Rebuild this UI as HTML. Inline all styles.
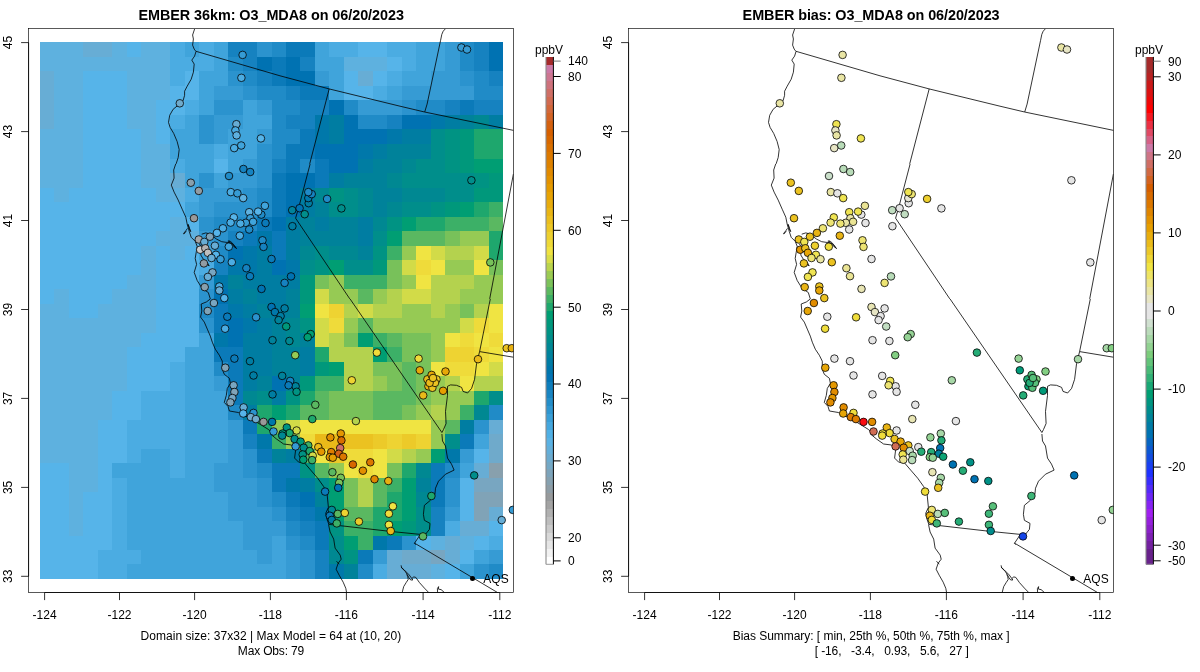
<!DOCTYPE html>
<html><head><meta charset="utf-8"><title>EMBER O3_MDA8</title>
<style>html,body{margin:0;padding:0;background:#fff}svg{display:block}text{font-family:"Liberation Sans",sans-serif;font-size:12px;fill:#000}.t{font-weight:bold;font-size:14.4px}</style></head><body>
<svg width="1200" height="672" viewBox="0 0 1200 672">
<rect width="1200" height="672" fill="#fff"/>
<g transform="translate(0.00,0)">
<clipPath id="c0"><rect x="28.6" y="28.6" width="484.9" height="563.9"/></clipPath>
<g shape-rendering="crispEdges">
<rect x="40" y="42" width="14" height="15" fill="#5eb1df"/>
<rect x="54" y="42" width="15" height="15" fill="#5eb1df"/>
<rect x="69" y="42" width="14" height="15" fill="#5eb1df"/>
<rect x="83" y="42" width="15" height="15" fill="#67add5"/>
<rect x="98" y="42" width="14" height="15" fill="#67add5"/>
<rect x="112" y="42" width="15" height="15" fill="#5eb1df"/>
<rect x="127" y="42" width="14" height="15" fill="#56b4e9"/>
<rect x="141" y="42" width="15" height="15" fill="#5eb1df"/>
<rect x="156" y="42" width="14" height="15" fill="#5eb1df"/>
<rect x="170" y="42" width="15" height="15" fill="#4bace2"/>
<rect x="185" y="42" width="14" height="15" fill="#40a4db"/>
<rect x="199" y="42" width="15" height="15" fill="#4bace2"/>
<rect x="214" y="42" width="14" height="15" fill="#40a4db"/>
<rect x="228" y="42" width="15" height="15" fill="#1682c0"/>
<rect x="243" y="42" width="14" height="15" fill="#1682c0"/>
<rect x="257" y="42" width="15" height="15" fill="#2b93ce"/>
<rect x="272" y="42" width="14" height="15" fill="#208bc7"/>
<rect x="286" y="42" width="14" height="15" fill="#0b7ab9"/>
<rect x="300" y="42" width="15" height="15" fill="#0b7ab9"/>
<rect x="315" y="42" width="14" height="15" fill="#40a4db"/>
<rect x="329" y="42" width="15" height="15" fill="#4bace2"/>
<rect x="344" y="42" width="14" height="15" fill="#4bace2"/>
<rect x="358" y="42" width="15" height="15" fill="#56b4e9"/>
<rect x="373" y="42" width="14" height="15" fill="#56b4e9"/>
<rect x="387" y="42" width="15" height="15" fill="#4bace2"/>
<rect x="402" y="42" width="14" height="15" fill="#4bace2"/>
<rect x="416" y="42" width="15" height="15" fill="#40a4db"/>
<rect x="431" y="42" width="14" height="15" fill="#40a4db"/>
<rect x="445" y="42" width="15" height="15" fill="#369bd4"/>
<rect x="460" y="42" width="14" height="15" fill="#208bc7"/>
<rect x="474" y="42" width="15" height="15" fill="#1682c0"/>
<rect x="489" y="42" width="14" height="15" fill="#0072b2"/>
<rect x="40" y="57" width="14" height="14" fill="#5eb1df"/>
<rect x="54" y="57" width="15" height="14" fill="#5eb1df"/>
<rect x="69" y="57" width="14" height="14" fill="#5eb1df"/>
<rect x="83" y="57" width="15" height="14" fill="#5eb1df"/>
<rect x="98" y="57" width="14" height="14" fill="#5eb1df"/>
<rect x="112" y="57" width="15" height="14" fill="#5eb1df"/>
<rect x="127" y="57" width="14" height="14" fill="#5eb1df"/>
<rect x="141" y="57" width="15" height="14" fill="#5eb1df"/>
<rect x="156" y="57" width="14" height="14" fill="#5eb1df"/>
<rect x="170" y="57" width="15" height="14" fill="#4bace2"/>
<rect x="185" y="57" width="14" height="14" fill="#4bace2"/>
<rect x="199" y="57" width="15" height="14" fill="#4bace2"/>
<rect x="214" y="57" width="14" height="14" fill="#40a4db"/>
<rect x="228" y="57" width="15" height="14" fill="#208bc7"/>
<rect x="243" y="57" width="14" height="14" fill="#1682c0"/>
<rect x="257" y="57" width="15" height="14" fill="#0072b2"/>
<rect x="272" y="57" width="14" height="14" fill="#0b7ab9"/>
<rect x="286" y="57" width="14" height="14" fill="#0072b2"/>
<rect x="300" y="57" width="15" height="14" fill="#1682c0"/>
<rect x="315" y="57" width="14" height="14" fill="#40a4db"/>
<rect x="329" y="57" width="15" height="14" fill="#40a4db"/>
<rect x="344" y="57" width="14" height="14" fill="#5eb1df"/>
<rect x="358" y="57" width="15" height="14" fill="#5eb1df"/>
<rect x="373" y="57" width="14" height="14" fill="#5eb1df"/>
<rect x="387" y="57" width="15" height="14" fill="#56b4e9"/>
<rect x="402" y="57" width="14" height="14" fill="#4bace2"/>
<rect x="416" y="57" width="15" height="14" fill="#40a4db"/>
<rect x="431" y="57" width="14" height="14" fill="#40a4db"/>
<rect x="445" y="57" width="15" height="14" fill="#369bd4"/>
<rect x="460" y="57" width="14" height="14" fill="#208bc7"/>
<rect x="474" y="57" width="15" height="14" fill="#1682c0"/>
<rect x="489" y="57" width="14" height="14" fill="#0072b2"/>
<rect x="40" y="71" width="14" height="15" fill="#67add5"/>
<rect x="54" y="71" width="15" height="15" fill="#5eb1df"/>
<rect x="69" y="71" width="14" height="15" fill="#5eb1df"/>
<rect x="83" y="71" width="15" height="15" fill="#56b4e9"/>
<rect x="98" y="71" width="14" height="15" fill="#56b4e9"/>
<rect x="112" y="71" width="15" height="15" fill="#56b4e9"/>
<rect x="127" y="71" width="14" height="15" fill="#5eb1df"/>
<rect x="141" y="71" width="15" height="15" fill="#5eb1df"/>
<rect x="156" y="71" width="14" height="15" fill="#5eb1df"/>
<rect x="170" y="71" width="15" height="15" fill="#4bace2"/>
<rect x="185" y="71" width="14" height="15" fill="#56b4e9"/>
<rect x="199" y="71" width="15" height="15" fill="#40a4db"/>
<rect x="214" y="71" width="14" height="15" fill="#40a4db"/>
<rect x="228" y="71" width="15" height="15" fill="#2b93ce"/>
<rect x="243" y="71" width="14" height="15" fill="#208bc7"/>
<rect x="257" y="71" width="15" height="15" fill="#1682c0"/>
<rect x="272" y="71" width="14" height="15" fill="#0b7ab9"/>
<rect x="286" y="71" width="14" height="15" fill="#0072b2"/>
<rect x="300" y="71" width="15" height="15" fill="#0072b2"/>
<rect x="315" y="71" width="14" height="15" fill="#369bd4"/>
<rect x="329" y="71" width="15" height="15" fill="#40a4db"/>
<rect x="344" y="71" width="14" height="15" fill="#56b4e9"/>
<rect x="358" y="71" width="15" height="15" fill="#67add5"/>
<rect x="373" y="71" width="14" height="15" fill="#56b4e9"/>
<rect x="387" y="71" width="15" height="15" fill="#4bace2"/>
<rect x="402" y="71" width="14" height="15" fill="#40a4db"/>
<rect x="416" y="71" width="15" height="15" fill="#40a4db"/>
<rect x="431" y="71" width="14" height="15" fill="#369bd4"/>
<rect x="445" y="71" width="15" height="15" fill="#369bd4"/>
<rect x="460" y="71" width="14" height="15" fill="#2b93ce"/>
<rect x="474" y="71" width="15" height="15" fill="#208bc7"/>
<rect x="489" y="71" width="14" height="15" fill="#1682c0"/>
<rect x="40" y="86" width="14" height="14" fill="#67add5"/>
<rect x="54" y="86" width="15" height="14" fill="#5eb1df"/>
<rect x="69" y="86" width="14" height="14" fill="#5eb1df"/>
<rect x="83" y="86" width="15" height="14" fill="#56b4e9"/>
<rect x="98" y="86" width="14" height="14" fill="#56b4e9"/>
<rect x="112" y="86" width="15" height="14" fill="#56b4e9"/>
<rect x="127" y="86" width="14" height="14" fill="#5eb1df"/>
<rect x="141" y="86" width="15" height="14" fill="#5eb1df"/>
<rect x="156" y="86" width="14" height="14" fill="#5eb1df"/>
<rect x="170" y="86" width="15" height="14" fill="#56b4e9"/>
<rect x="185" y="86" width="14" height="14" fill="#56b4e9"/>
<rect x="199" y="86" width="15" height="14" fill="#40a4db"/>
<rect x="214" y="86" width="14" height="14" fill="#369bd4"/>
<rect x="228" y="86" width="15" height="14" fill="#369bd4"/>
<rect x="243" y="86" width="14" height="14" fill="#2b93ce"/>
<rect x="257" y="86" width="15" height="14" fill="#208bc7"/>
<rect x="272" y="86" width="14" height="14" fill="#208bc7"/>
<rect x="286" y="86" width="14" height="14" fill="#1682c0"/>
<rect x="300" y="86" width="15" height="14" fill="#0b7ab9"/>
<rect x="315" y="86" width="14" height="14" fill="#0b7ab9"/>
<rect x="329" y="86" width="15" height="14" fill="#40a4db"/>
<rect x="344" y="86" width="14" height="14" fill="#56b4e9"/>
<rect x="358" y="86" width="15" height="14" fill="#56b4e9"/>
<rect x="373" y="86" width="14" height="14" fill="#4bace2"/>
<rect x="387" y="86" width="15" height="14" fill="#40a4db"/>
<rect x="402" y="86" width="14" height="14" fill="#369bd4"/>
<rect x="416" y="86" width="15" height="14" fill="#369bd4"/>
<rect x="431" y="86" width="14" height="14" fill="#369bd4"/>
<rect x="445" y="86" width="15" height="14" fill="#369bd4"/>
<rect x="460" y="86" width="14" height="14" fill="#369bd4"/>
<rect x="474" y="86" width="15" height="14" fill="#208bc7"/>
<rect x="489" y="86" width="14" height="14" fill="#208bc7"/>
<rect x="40" y="100" width="14" height="15" fill="#67add5"/>
<rect x="54" y="100" width="15" height="15" fill="#5eb1df"/>
<rect x="69" y="100" width="14" height="15" fill="#5eb1df"/>
<rect x="83" y="100" width="15" height="15" fill="#56b4e9"/>
<rect x="98" y="100" width="14" height="15" fill="#56b4e9"/>
<rect x="112" y="100" width="15" height="15" fill="#56b4e9"/>
<rect x="127" y="100" width="14" height="15" fill="#5eb1df"/>
<rect x="141" y="100" width="15" height="15" fill="#5eb1df"/>
<rect x="156" y="100" width="14" height="15" fill="#56b4e9"/>
<rect x="170" y="100" width="15" height="15" fill="#56b4e9"/>
<rect x="185" y="100" width="14" height="15" fill="#4bace2"/>
<rect x="199" y="100" width="15" height="15" fill="#40a4db"/>
<rect x="214" y="100" width="14" height="15" fill="#2b93ce"/>
<rect x="228" y="100" width="15" height="15" fill="#2b93ce"/>
<rect x="243" y="100" width="14" height="15" fill="#40a4db"/>
<rect x="257" y="100" width="15" height="15" fill="#369bd4"/>
<rect x="272" y="100" width="14" height="15" fill="#208bc7"/>
<rect x="286" y="100" width="14" height="15" fill="#208bc7"/>
<rect x="300" y="100" width="15" height="15" fill="#1682c0"/>
<rect x="315" y="100" width="14" height="15" fill="#1682c0"/>
<rect x="329" y="100" width="15" height="15" fill="#0072b2"/>
<rect x="344" y="100" width="14" height="15" fill="#208bc7"/>
<rect x="358" y="100" width="15" height="15" fill="#369bd4"/>
<rect x="373" y="100" width="14" height="15" fill="#369bd4"/>
<rect x="387" y="100" width="15" height="15" fill="#369bd4"/>
<rect x="402" y="100" width="14" height="15" fill="#2b93ce"/>
<rect x="416" y="100" width="15" height="15" fill="#208bc7"/>
<rect x="431" y="100" width="14" height="15" fill="#208bc7"/>
<rect x="445" y="100" width="15" height="15" fill="#1682c0"/>
<rect x="460" y="100" width="14" height="15" fill="#0b7ab9"/>
<rect x="474" y="100" width="15" height="15" fill="#1682c0"/>
<rect x="489" y="100" width="14" height="15" fill="#1682c0"/>
<rect x="40" y="115" width="14" height="14" fill="#67add5"/>
<rect x="54" y="115" width="15" height="14" fill="#5eb1df"/>
<rect x="69" y="115" width="14" height="14" fill="#5eb1df"/>
<rect x="83" y="115" width="15" height="14" fill="#56b4e9"/>
<rect x="98" y="115" width="14" height="14" fill="#56b4e9"/>
<rect x="112" y="115" width="15" height="14" fill="#56b4e9"/>
<rect x="127" y="115" width="14" height="14" fill="#5eb1df"/>
<rect x="141" y="115" width="15" height="14" fill="#5eb1df"/>
<rect x="156" y="115" width="14" height="14" fill="#56b4e9"/>
<rect x="170" y="115" width="15" height="14" fill="#4bace2"/>
<rect x="185" y="115" width="14" height="14" fill="#40a4db"/>
<rect x="199" y="115" width="15" height="14" fill="#2b93ce"/>
<rect x="214" y="115" width="14" height="14" fill="#369bd4"/>
<rect x="228" y="115" width="15" height="14" fill="#369bd4"/>
<rect x="243" y="115" width="14" height="14" fill="#40a4db"/>
<rect x="257" y="115" width="15" height="14" fill="#40a4db"/>
<rect x="272" y="115" width="14" height="14" fill="#208bc7"/>
<rect x="286" y="115" width="14" height="14" fill="#1682c0"/>
<rect x="300" y="115" width="15" height="14" fill="#1682c0"/>
<rect x="315" y="115" width="14" height="14" fill="#0078aa"/>
<rect x="329" y="115" width="15" height="14" fill="#007da2"/>
<rect x="344" y="115" width="14" height="14" fill="#0072b2"/>
<rect x="358" y="115" width="15" height="14" fill="#208bc7"/>
<rect x="373" y="115" width="14" height="14" fill="#208bc7"/>
<rect x="387" y="115" width="15" height="14" fill="#1682c0"/>
<rect x="402" y="115" width="14" height="14" fill="#0072b2"/>
<rect x="416" y="115" width="15" height="14" fill="#0072b2"/>
<rect x="431" y="115" width="14" height="14" fill="#0078aa"/>
<rect x="445" y="115" width="15" height="14" fill="#007da2"/>
<rect x="460" y="115" width="14" height="14" fill="#00829a"/>
<rect x="474" y="115" width="15" height="14" fill="#008892"/>
<rect x="489" y="115" width="14" height="14" fill="#007da2"/>
<rect x="40" y="129" width="14" height="15" fill="#5eb1df"/>
<rect x="54" y="129" width="15" height="15" fill="#5eb1df"/>
<rect x="69" y="129" width="14" height="15" fill="#5eb1df"/>
<rect x="83" y="129" width="15" height="15" fill="#56b4e9"/>
<rect x="98" y="129" width="14" height="15" fill="#56b4e9"/>
<rect x="112" y="129" width="15" height="15" fill="#56b4e9"/>
<rect x="127" y="129" width="14" height="15" fill="#56b4e9"/>
<rect x="141" y="129" width="15" height="15" fill="#5eb1df"/>
<rect x="156" y="129" width="14" height="15" fill="#56b4e9"/>
<rect x="170" y="129" width="15" height="15" fill="#40a4db"/>
<rect x="185" y="129" width="14" height="15" fill="#40a4db"/>
<rect x="199" y="129" width="15" height="15" fill="#2b93ce"/>
<rect x="214" y="129" width="14" height="15" fill="#369bd4"/>
<rect x="228" y="129" width="15" height="15" fill="#40a4db"/>
<rect x="243" y="129" width="14" height="15" fill="#40a4db"/>
<rect x="257" y="129" width="15" height="15" fill="#369bd4"/>
<rect x="272" y="129" width="14" height="15" fill="#208bc7"/>
<rect x="286" y="129" width="14" height="15" fill="#208bc7"/>
<rect x="300" y="129" width="15" height="15" fill="#0b7ab9"/>
<rect x="315" y="129" width="14" height="15" fill="#0078aa"/>
<rect x="329" y="129" width="15" height="15" fill="#007da2"/>
<rect x="344" y="129" width="14" height="15" fill="#0072b2"/>
<rect x="358" y="129" width="15" height="15" fill="#0072b2"/>
<rect x="373" y="129" width="14" height="15" fill="#0072b2"/>
<rect x="387" y="129" width="15" height="15" fill="#0078aa"/>
<rect x="402" y="129" width="14" height="15" fill="#007da2"/>
<rect x="416" y="129" width="15" height="15" fill="#007da2"/>
<rect x="431" y="129" width="14" height="15" fill="#008e8b"/>
<rect x="445" y="129" width="15" height="15" fill="#009383"/>
<rect x="460" y="129" width="14" height="15" fill="#00987b"/>
<rect x="474" y="129" width="15" height="15" fill="#1ea76d"/>
<rect x="489" y="129" width="14" height="15" fill="#1ea76d"/>
<rect x="40" y="144" width="14" height="15" fill="#5eb1df"/>
<rect x="54" y="144" width="15" height="15" fill="#5eb1df"/>
<rect x="69" y="144" width="14" height="15" fill="#5eb1df"/>
<rect x="83" y="144" width="15" height="15" fill="#56b4e9"/>
<rect x="98" y="144" width="14" height="15" fill="#56b4e9"/>
<rect x="112" y="144" width="15" height="15" fill="#56b4e9"/>
<rect x="127" y="144" width="14" height="15" fill="#56b4e9"/>
<rect x="141" y="144" width="15" height="15" fill="#5eb1df"/>
<rect x="156" y="144" width="14" height="15" fill="#5eb1df"/>
<rect x="170" y="144" width="15" height="15" fill="#40a4db"/>
<rect x="185" y="144" width="14" height="15" fill="#40a4db"/>
<rect x="199" y="144" width="15" height="15" fill="#40a4db"/>
<rect x="214" y="144" width="14" height="15" fill="#4bace2"/>
<rect x="228" y="144" width="15" height="15" fill="#40a4db"/>
<rect x="243" y="144" width="14" height="15" fill="#40a4db"/>
<rect x="257" y="144" width="15" height="15" fill="#2b93ce"/>
<rect x="272" y="144" width="14" height="15" fill="#208bc7"/>
<rect x="286" y="144" width="14" height="15" fill="#0b7ab9"/>
<rect x="300" y="144" width="15" height="15" fill="#0b7ab9"/>
<rect x="315" y="144" width="14" height="15" fill="#0072b2"/>
<rect x="329" y="144" width="15" height="15" fill="#0072b2"/>
<rect x="344" y="144" width="14" height="15" fill="#0072b2"/>
<rect x="358" y="144" width="15" height="15" fill="#0078aa"/>
<rect x="373" y="144" width="14" height="15" fill="#007da2"/>
<rect x="387" y="144" width="15" height="15" fill="#00829a"/>
<rect x="402" y="144" width="14" height="15" fill="#00829a"/>
<rect x="416" y="144" width="15" height="15" fill="#00829a"/>
<rect x="431" y="144" width="14" height="15" fill="#008e8b"/>
<rect x="445" y="144" width="15" height="15" fill="#009383"/>
<rect x="460" y="144" width="14" height="15" fill="#00987b"/>
<rect x="474" y="144" width="15" height="15" fill="#1ea76d"/>
<rect x="489" y="144" width="14" height="15" fill="#1ea76d"/>
<rect x="40" y="159" width="14" height="14" fill="#5eb1df"/>
<rect x="54" y="159" width="15" height="14" fill="#5eb1df"/>
<rect x="69" y="159" width="14" height="14" fill="#5eb1df"/>
<rect x="83" y="159" width="15" height="14" fill="#56b4e9"/>
<rect x="98" y="159" width="14" height="14" fill="#56b4e9"/>
<rect x="112" y="159" width="15" height="14" fill="#56b4e9"/>
<rect x="127" y="159" width="14" height="14" fill="#56b4e9"/>
<rect x="141" y="159" width="15" height="14" fill="#5eb1df"/>
<rect x="156" y="159" width="14" height="14" fill="#5eb1df"/>
<rect x="170" y="159" width="15" height="14" fill="#4bace2"/>
<rect x="185" y="159" width="14" height="14" fill="#40a4db"/>
<rect x="199" y="159" width="15" height="14" fill="#40a4db"/>
<rect x="214" y="159" width="14" height="14" fill="#56b4e9"/>
<rect x="228" y="159" width="15" height="14" fill="#40a4db"/>
<rect x="243" y="159" width="14" height="14" fill="#369bd4"/>
<rect x="257" y="159" width="15" height="14" fill="#2b93ce"/>
<rect x="272" y="159" width="14" height="14" fill="#1682c0"/>
<rect x="286" y="159" width="14" height="14" fill="#0b7ab9"/>
<rect x="300" y="159" width="15" height="14" fill="#208bc7"/>
<rect x="315" y="159" width="14" height="14" fill="#0b7ab9"/>
<rect x="329" y="159" width="15" height="14" fill="#0072b2"/>
<rect x="344" y="159" width="14" height="14" fill="#0072b2"/>
<rect x="358" y="159" width="15" height="14" fill="#007da2"/>
<rect x="373" y="159" width="14" height="14" fill="#00829a"/>
<rect x="387" y="159" width="15" height="14" fill="#00829a"/>
<rect x="402" y="159" width="14" height="14" fill="#008892"/>
<rect x="416" y="159" width="15" height="14" fill="#008e8b"/>
<rect x="431" y="159" width="14" height="14" fill="#008e8b"/>
<rect x="445" y="159" width="15" height="14" fill="#009383"/>
<rect x="460" y="159" width="14" height="14" fill="#00987b"/>
<rect x="474" y="159" width="15" height="14" fill="#009e73"/>
<rect x="489" y="159" width="14" height="14" fill="#009e73"/>
<rect x="40" y="173" width="14" height="15" fill="#5eb1df"/>
<rect x="54" y="173" width="15" height="15" fill="#5eb1df"/>
<rect x="69" y="173" width="14" height="15" fill="#5eb1df"/>
<rect x="83" y="173" width="15" height="15" fill="#56b4e9"/>
<rect x="98" y="173" width="14" height="15" fill="#56b4e9"/>
<rect x="112" y="173" width="15" height="15" fill="#56b4e9"/>
<rect x="127" y="173" width="14" height="15" fill="#56b4e9"/>
<rect x="141" y="173" width="15" height="15" fill="#5eb1df"/>
<rect x="156" y="173" width="14" height="15" fill="#5eb1df"/>
<rect x="170" y="173" width="15" height="15" fill="#67add5"/>
<rect x="185" y="173" width="14" height="15" fill="#40a4db"/>
<rect x="199" y="173" width="15" height="15" fill="#2b93ce"/>
<rect x="214" y="173" width="14" height="15" fill="#40a4db"/>
<rect x="228" y="173" width="15" height="15" fill="#369bd4"/>
<rect x="243" y="173" width="14" height="15" fill="#369bd4"/>
<rect x="257" y="173" width="15" height="15" fill="#2b93ce"/>
<rect x="272" y="173" width="14" height="15" fill="#0b7ab9"/>
<rect x="286" y="173" width="14" height="15" fill="#0072b2"/>
<rect x="300" y="173" width="15" height="15" fill="#0072b2"/>
<rect x="315" y="173" width="14" height="15" fill="#0b7ab9"/>
<rect x="329" y="173" width="15" height="15" fill="#007da2"/>
<rect x="344" y="173" width="14" height="15" fill="#00829a"/>
<rect x="358" y="173" width="15" height="15" fill="#00829a"/>
<rect x="373" y="173" width="14" height="15" fill="#00829a"/>
<rect x="387" y="173" width="15" height="15" fill="#008892"/>
<rect x="402" y="173" width="14" height="15" fill="#008e8b"/>
<rect x="416" y="173" width="15" height="15" fill="#008e8b"/>
<rect x="431" y="173" width="14" height="15" fill="#008e8b"/>
<rect x="445" y="173" width="15" height="15" fill="#008e8b"/>
<rect x="460" y="173" width="14" height="15" fill="#008e8b"/>
<rect x="474" y="173" width="15" height="15" fill="#009383"/>
<rect x="489" y="173" width="14" height="15" fill="#00987b"/>
<rect x="40" y="188" width="14" height="14" fill="#56b4e9"/>
<rect x="54" y="188" width="15" height="14" fill="#5eb1df"/>
<rect x="69" y="188" width="14" height="14" fill="#56b4e9"/>
<rect x="83" y="188" width="15" height="14" fill="#56b4e9"/>
<rect x="98" y="188" width="14" height="14" fill="#56b4e9"/>
<rect x="112" y="188" width="15" height="14" fill="#56b4e9"/>
<rect x="127" y="188" width="14" height="14" fill="#56b4e9"/>
<rect x="141" y="188" width="15" height="14" fill="#56b4e9"/>
<rect x="156" y="188" width="14" height="14" fill="#5eb1df"/>
<rect x="170" y="188" width="15" height="14" fill="#5eb1df"/>
<rect x="185" y="188" width="14" height="14" fill="#4bace2"/>
<rect x="199" y="188" width="15" height="14" fill="#369bd4"/>
<rect x="214" y="188" width="14" height="14" fill="#369bd4"/>
<rect x="228" y="188" width="15" height="14" fill="#369bd4"/>
<rect x="243" y="188" width="14" height="14" fill="#2b93ce"/>
<rect x="257" y="188" width="15" height="14" fill="#208bc7"/>
<rect x="272" y="188" width="14" height="14" fill="#0b7ab9"/>
<rect x="286" y="188" width="14" height="14" fill="#0072b2"/>
<rect x="300" y="188" width="15" height="14" fill="#007da2"/>
<rect x="315" y="188" width="14" height="14" fill="#008892"/>
<rect x="329" y="188" width="15" height="14" fill="#009383"/>
<rect x="344" y="188" width="14" height="14" fill="#008e8b"/>
<rect x="358" y="188" width="15" height="14" fill="#008892"/>
<rect x="373" y="188" width="14" height="14" fill="#00829a"/>
<rect x="387" y="188" width="15" height="14" fill="#00829a"/>
<rect x="402" y="188" width="14" height="14" fill="#008892"/>
<rect x="416" y="188" width="15" height="14" fill="#008892"/>
<rect x="431" y="188" width="14" height="14" fill="#008892"/>
<rect x="445" y="188" width="15" height="14" fill="#008e8b"/>
<rect x="460" y="188" width="14" height="14" fill="#008e8b"/>
<rect x="474" y="188" width="15" height="14" fill="#00987b"/>
<rect x="489" y="188" width="14" height="14" fill="#00987b"/>
<rect x="40" y="202" width="14" height="15" fill="#56b4e9"/>
<rect x="54" y="202" width="15" height="15" fill="#56b4e9"/>
<rect x="69" y="202" width="14" height="15" fill="#56b4e9"/>
<rect x="83" y="202" width="15" height="15" fill="#56b4e9"/>
<rect x="98" y="202" width="14" height="15" fill="#56b4e9"/>
<rect x="112" y="202" width="15" height="15" fill="#56b4e9"/>
<rect x="127" y="202" width="14" height="15" fill="#56b4e9"/>
<rect x="141" y="202" width="15" height="15" fill="#56b4e9"/>
<rect x="156" y="202" width="14" height="15" fill="#56b4e9"/>
<rect x="170" y="202" width="15" height="15" fill="#56b4e9"/>
<rect x="185" y="202" width="14" height="15" fill="#40a4db"/>
<rect x="199" y="202" width="15" height="15" fill="#369bd4"/>
<rect x="214" y="202" width="14" height="15" fill="#2b93ce"/>
<rect x="228" y="202" width="15" height="15" fill="#2b93ce"/>
<rect x="243" y="202" width="14" height="15" fill="#2b93ce"/>
<rect x="257" y="202" width="15" height="15" fill="#208bc7"/>
<rect x="272" y="202" width="14" height="15" fill="#0b7ab9"/>
<rect x="286" y="202" width="14" height="15" fill="#0072b2"/>
<rect x="300" y="202" width="15" height="15" fill="#007da2"/>
<rect x="315" y="202" width="14" height="15" fill="#00829a"/>
<rect x="329" y="202" width="15" height="15" fill="#008e8b"/>
<rect x="344" y="202" width="14" height="15" fill="#008e8b"/>
<rect x="358" y="202" width="15" height="15" fill="#008892"/>
<rect x="373" y="202" width="14" height="15" fill="#00829a"/>
<rect x="387" y="202" width="15" height="15" fill="#008892"/>
<rect x="402" y="202" width="14" height="15" fill="#008e8b"/>
<rect x="416" y="202" width="15" height="15" fill="#008e8b"/>
<rect x="431" y="202" width="14" height="15" fill="#009383"/>
<rect x="445" y="202" width="15" height="15" fill="#00987b"/>
<rect x="460" y="202" width="14" height="15" fill="#009e73"/>
<rect x="474" y="202" width="15" height="15" fill="#1ea76d"/>
<rect x="489" y="202" width="14" height="15" fill="#3cb067"/>
<rect x="40" y="217" width="14" height="14" fill="#56b4e9"/>
<rect x="54" y="217" width="15" height="14" fill="#56b4e9"/>
<rect x="69" y="217" width="14" height="14" fill="#56b4e9"/>
<rect x="83" y="217" width="15" height="14" fill="#56b4e9"/>
<rect x="98" y="217" width="14" height="14" fill="#56b4e9"/>
<rect x="112" y="217" width="15" height="14" fill="#56b4e9"/>
<rect x="127" y="217" width="14" height="14" fill="#56b4e9"/>
<rect x="141" y="217" width="15" height="14" fill="#56b4e9"/>
<rect x="156" y="217" width="14" height="14" fill="#56b4e9"/>
<rect x="170" y="217" width="15" height="14" fill="#5eb1df"/>
<rect x="185" y="217" width="14" height="14" fill="#56b4e9"/>
<rect x="199" y="217" width="15" height="14" fill="#2b93ce"/>
<rect x="214" y="217" width="14" height="14" fill="#208bc7"/>
<rect x="228" y="217" width="15" height="14" fill="#208bc7"/>
<rect x="243" y="217" width="14" height="14" fill="#208bc7"/>
<rect x="257" y="217" width="15" height="14" fill="#0b7ab9"/>
<rect x="272" y="217" width="14" height="14" fill="#0072b2"/>
<rect x="286" y="217" width="14" height="14" fill="#007da2"/>
<rect x="300" y="217" width="15" height="14" fill="#00829a"/>
<rect x="315" y="217" width="14" height="14" fill="#007da2"/>
<rect x="329" y="217" width="15" height="14" fill="#00829a"/>
<rect x="344" y="217" width="14" height="14" fill="#00829a"/>
<rect x="358" y="217" width="15" height="14" fill="#007da2"/>
<rect x="373" y="217" width="14" height="14" fill="#008892"/>
<rect x="387" y="217" width="15" height="14" fill="#009383"/>
<rect x="402" y="217" width="14" height="14" fill="#009e73"/>
<rect x="416" y="217" width="15" height="14" fill="#1ea76d"/>
<rect x="431" y="217" width="14" height="14" fill="#1ea76d"/>
<rect x="445" y="217" width="15" height="14" fill="#3cb067"/>
<rect x="460" y="217" width="14" height="14" fill="#3cb067"/>
<rect x="474" y="217" width="15" height="14" fill="#3cb067"/>
<rect x="489" y="217" width="14" height="14" fill="#5ab861"/>
<rect x="40" y="231" width="14" height="15" fill="#56b4e9"/>
<rect x="54" y="231" width="15" height="15" fill="#56b4e9"/>
<rect x="69" y="231" width="14" height="15" fill="#56b4e9"/>
<rect x="83" y="231" width="15" height="15" fill="#56b4e9"/>
<rect x="98" y="231" width="14" height="15" fill="#56b4e9"/>
<rect x="112" y="231" width="15" height="15" fill="#56b4e9"/>
<rect x="127" y="231" width="14" height="15" fill="#56b4e9"/>
<rect x="141" y="231" width="15" height="15" fill="#56b4e9"/>
<rect x="156" y="231" width="14" height="15" fill="#5eb1df"/>
<rect x="170" y="231" width="15" height="15" fill="#5eb1df"/>
<rect x="185" y="231" width="14" height="15" fill="#5eb1df"/>
<rect x="199" y="231" width="15" height="15" fill="#369bd4"/>
<rect x="214" y="231" width="14" height="15" fill="#2b93ce"/>
<rect x="228" y="231" width="15" height="15" fill="#1682c0"/>
<rect x="243" y="231" width="14" height="15" fill="#0b7ab9"/>
<rect x="257" y="231" width="15" height="15" fill="#0078aa"/>
<rect x="272" y="231" width="14" height="15" fill="#0b7ab9"/>
<rect x="286" y="231" width="14" height="15" fill="#007da2"/>
<rect x="300" y="231" width="15" height="15" fill="#00829a"/>
<rect x="315" y="231" width="14" height="15" fill="#00829a"/>
<rect x="329" y="231" width="15" height="15" fill="#00829a"/>
<rect x="344" y="231" width="14" height="15" fill="#00829a"/>
<rect x="358" y="231" width="15" height="15" fill="#007da2"/>
<rect x="373" y="231" width="14" height="15" fill="#008e8b"/>
<rect x="387" y="231" width="15" height="15" fill="#009e73"/>
<rect x="402" y="231" width="14" height="15" fill="#5ab861"/>
<rect x="416" y="231" width="15" height="15" fill="#5ab861"/>
<rect x="431" y="231" width="14" height="15" fill="#5ab861"/>
<rect x="445" y="231" width="15" height="15" fill="#78c15a"/>
<rect x="460" y="231" width="14" height="15" fill="#96ca54"/>
<rect x="474" y="231" width="15" height="15" fill="#96ca54"/>
<rect x="489" y="231" width="14" height="15" fill="#1ea76d"/>
<rect x="40" y="246" width="14" height="14" fill="#56b4e9"/>
<rect x="54" y="246" width="15" height="14" fill="#56b4e9"/>
<rect x="69" y="246" width="14" height="14" fill="#56b4e9"/>
<rect x="83" y="246" width="15" height="14" fill="#56b4e9"/>
<rect x="98" y="246" width="14" height="14" fill="#56b4e9"/>
<rect x="112" y="246" width="15" height="14" fill="#56b4e9"/>
<rect x="127" y="246" width="14" height="14" fill="#56b4e9"/>
<rect x="141" y="246" width="15" height="14" fill="#5eb1df"/>
<rect x="156" y="246" width="14" height="14" fill="#56b4e9"/>
<rect x="170" y="246" width="15" height="14" fill="#5eb1df"/>
<rect x="185" y="246" width="14" height="14" fill="#56b4e9"/>
<rect x="199" y="246" width="15" height="14" fill="#40a4db"/>
<rect x="214" y="246" width="14" height="14" fill="#208bc7"/>
<rect x="228" y="246" width="15" height="14" fill="#0072b2"/>
<rect x="243" y="246" width="14" height="14" fill="#0078aa"/>
<rect x="257" y="246" width="15" height="14" fill="#007da2"/>
<rect x="272" y="246" width="14" height="14" fill="#0b7ab9"/>
<rect x="286" y="246" width="14" height="14" fill="#007da2"/>
<rect x="300" y="246" width="15" height="14" fill="#008892"/>
<rect x="315" y="246" width="14" height="14" fill="#008e8b"/>
<rect x="329" y="246" width="15" height="14" fill="#008892"/>
<rect x="344" y="246" width="14" height="14" fill="#008892"/>
<rect x="358" y="246" width="15" height="14" fill="#00829a"/>
<rect x="373" y="246" width="14" height="14" fill="#009383"/>
<rect x="387" y="246" width="15" height="14" fill="#3cb067"/>
<rect x="402" y="246" width="14" height="14" fill="#96ca54"/>
<rect x="416" y="246" width="15" height="14" fill="#f0e442"/>
<rect x="431" y="246" width="14" height="14" fill="#d2db48"/>
<rect x="445" y="246" width="15" height="14" fill="#b4d24e"/>
<rect x="460" y="246" width="14" height="14" fill="#b4d24e"/>
<rect x="474" y="246" width="15" height="14" fill="#d2db48"/>
<rect x="489" y="246" width="14" height="14" fill="#1ea76d"/>
<rect x="40" y="260" width="14" height="15" fill="#56b4e9"/>
<rect x="54" y="260" width="15" height="15" fill="#56b4e9"/>
<rect x="69" y="260" width="14" height="15" fill="#56b4e9"/>
<rect x="83" y="260" width="15" height="15" fill="#56b4e9"/>
<rect x="98" y="260" width="14" height="15" fill="#56b4e9"/>
<rect x="112" y="260" width="15" height="15" fill="#56b4e9"/>
<rect x="127" y="260" width="14" height="15" fill="#56b4e9"/>
<rect x="141" y="260" width="15" height="15" fill="#5eb1df"/>
<rect x="156" y="260" width="14" height="15" fill="#56b4e9"/>
<rect x="170" y="260" width="15" height="15" fill="#56b4e9"/>
<rect x="185" y="260" width="14" height="15" fill="#56b4e9"/>
<rect x="199" y="260" width="15" height="15" fill="#4bace2"/>
<rect x="214" y="260" width="14" height="15" fill="#1682c0"/>
<rect x="228" y="260" width="15" height="15" fill="#0078aa"/>
<rect x="243" y="260" width="14" height="15" fill="#0078aa"/>
<rect x="257" y="260" width="15" height="15" fill="#007da2"/>
<rect x="272" y="260" width="14" height="15" fill="#0072b2"/>
<rect x="286" y="260" width="14" height="15" fill="#0078aa"/>
<rect x="300" y="260" width="15" height="15" fill="#008e8b"/>
<rect x="315" y="260" width="14" height="15" fill="#009383"/>
<rect x="329" y="260" width="15" height="15" fill="#009e73"/>
<rect x="344" y="260" width="14" height="15" fill="#008e8b"/>
<rect x="358" y="260" width="15" height="15" fill="#008e8b"/>
<rect x="373" y="260" width="14" height="15" fill="#00987b"/>
<rect x="387" y="260" width="15" height="15" fill="#78c15a"/>
<rect x="402" y="260" width="14" height="15" fill="#d2db48"/>
<rect x="416" y="260" width="15" height="15" fill="#efdb3a"/>
<rect x="431" y="260" width="14" height="15" fill="#f0e442"/>
<rect x="445" y="260" width="15" height="15" fill="#96ca54"/>
<rect x="460" y="260" width="14" height="15" fill="#96ca54"/>
<rect x="474" y="260" width="15" height="15" fill="#f0e442"/>
<rect x="489" y="260" width="14" height="15" fill="#78c15a"/>
<rect x="40" y="275" width="14" height="14" fill="#56b4e9"/>
<rect x="54" y="275" width="15" height="14" fill="#56b4e9"/>
<rect x="69" y="275" width="14" height="14" fill="#56b4e9"/>
<rect x="83" y="275" width="15" height="14" fill="#56b4e9"/>
<rect x="98" y="275" width="14" height="14" fill="#56b4e9"/>
<rect x="112" y="275" width="15" height="14" fill="#56b4e9"/>
<rect x="127" y="275" width="14" height="14" fill="#5eb1df"/>
<rect x="141" y="275" width="15" height="14" fill="#5eb1df"/>
<rect x="156" y="275" width="14" height="14" fill="#56b4e9"/>
<rect x="170" y="275" width="15" height="14" fill="#56b4e9"/>
<rect x="185" y="275" width="14" height="14" fill="#56b4e9"/>
<rect x="199" y="275" width="15" height="14" fill="#369bd4"/>
<rect x="214" y="275" width="14" height="14" fill="#0078aa"/>
<rect x="228" y="275" width="15" height="14" fill="#00829a"/>
<rect x="243" y="275" width="14" height="14" fill="#007da2"/>
<rect x="257" y="275" width="15" height="14" fill="#007da2"/>
<rect x="272" y="275" width="14" height="14" fill="#007da2"/>
<rect x="286" y="275" width="14" height="14" fill="#007da2"/>
<rect x="300" y="275" width="15" height="14" fill="#00987b"/>
<rect x="315" y="275" width="14" height="14" fill="#78c15a"/>
<rect x="329" y="275" width="15" height="14" fill="#96ca54"/>
<rect x="344" y="275" width="14" height="14" fill="#3cb067"/>
<rect x="358" y="275" width="15" height="14" fill="#3cb067"/>
<rect x="373" y="275" width="14" height="14" fill="#3cb067"/>
<rect x="387" y="275" width="15" height="14" fill="#78c15a"/>
<rect x="402" y="275" width="14" height="14" fill="#96ca54"/>
<rect x="416" y="275" width="15" height="14" fill="#f0e442"/>
<rect x="431" y="275" width="14" height="14" fill="#b4d24e"/>
<rect x="445" y="275" width="15" height="14" fill="#b4d24e"/>
<rect x="460" y="275" width="14" height="14" fill="#b4d24e"/>
<rect x="474" y="275" width="15" height="14" fill="#96ca54"/>
<rect x="489" y="275" width="14" height="14" fill="#96ca54"/>
<rect x="40" y="289" width="14" height="15" fill="#56b4e9"/>
<rect x="54" y="289" width="15" height="15" fill="#5eb1df"/>
<rect x="69" y="289" width="14" height="15" fill="#56b4e9"/>
<rect x="83" y="289" width="15" height="15" fill="#56b4e9"/>
<rect x="98" y="289" width="14" height="15" fill="#56b4e9"/>
<rect x="112" y="289" width="15" height="15" fill="#5eb1df"/>
<rect x="127" y="289" width="14" height="15" fill="#5eb1df"/>
<rect x="141" y="289" width="15" height="15" fill="#5eb1df"/>
<rect x="156" y="289" width="14" height="15" fill="#56b4e9"/>
<rect x="170" y="289" width="15" height="15" fill="#56b4e9"/>
<rect x="185" y="289" width="14" height="15" fill="#56b4e9"/>
<rect x="199" y="289" width="15" height="15" fill="#2b93ce"/>
<rect x="214" y="289" width="14" height="15" fill="#0072b2"/>
<rect x="228" y="289" width="15" height="15" fill="#007da2"/>
<rect x="243" y="289" width="14" height="15" fill="#00829a"/>
<rect x="257" y="289" width="15" height="15" fill="#007da2"/>
<rect x="272" y="289" width="14" height="15" fill="#007da2"/>
<rect x="286" y="289" width="14" height="15" fill="#00829a"/>
<rect x="300" y="289" width="15" height="15" fill="#00987b"/>
<rect x="315" y="289" width="14" height="15" fill="#d2db48"/>
<rect x="329" y="289" width="15" height="15" fill="#96ca54"/>
<rect x="344" y="289" width="14" height="15" fill="#96ca54"/>
<rect x="358" y="289" width="15" height="15" fill="#5ab861"/>
<rect x="373" y="289" width="14" height="15" fill="#96ca54"/>
<rect x="387" y="289" width="15" height="15" fill="#b4d24e"/>
<rect x="402" y="289" width="14" height="15" fill="#d2db48"/>
<rect x="416" y="289" width="15" height="15" fill="#d2db48"/>
<rect x="431" y="289" width="14" height="15" fill="#b4d24e"/>
<rect x="445" y="289" width="15" height="15" fill="#b4d24e"/>
<rect x="460" y="289" width="14" height="15" fill="#96ca54"/>
<rect x="474" y="289" width="15" height="15" fill="#96ca54"/>
<rect x="489" y="289" width="14" height="15" fill="#96ca54"/>
<rect x="40" y="304" width="14" height="14" fill="#5eb1df"/>
<rect x="54" y="304" width="15" height="14" fill="#5eb1df"/>
<rect x="69" y="304" width="14" height="14" fill="#56b4e9"/>
<rect x="83" y="304" width="15" height="14" fill="#56b4e9"/>
<rect x="98" y="304" width="14" height="14" fill="#5eb1df"/>
<rect x="112" y="304" width="15" height="14" fill="#5eb1df"/>
<rect x="127" y="304" width="14" height="14" fill="#5eb1df"/>
<rect x="141" y="304" width="15" height="14" fill="#5eb1df"/>
<rect x="156" y="304" width="14" height="14" fill="#56b4e9"/>
<rect x="170" y="304" width="15" height="14" fill="#56b4e9"/>
<rect x="185" y="304" width="14" height="14" fill="#56b4e9"/>
<rect x="199" y="304" width="15" height="14" fill="#208bc7"/>
<rect x="214" y="304" width="14" height="14" fill="#0b7ab9"/>
<rect x="228" y="304" width="15" height="14" fill="#0078aa"/>
<rect x="243" y="304" width="14" height="14" fill="#007da2"/>
<rect x="257" y="304" width="15" height="14" fill="#00829a"/>
<rect x="272" y="304" width="14" height="14" fill="#007da2"/>
<rect x="286" y="304" width="14" height="14" fill="#00829a"/>
<rect x="300" y="304" width="15" height="14" fill="#009e73"/>
<rect x="315" y="304" width="14" height="14" fill="#f0e442"/>
<rect x="329" y="304" width="15" height="14" fill="#eed332"/>
<rect x="344" y="304" width="14" height="14" fill="#b4d24e"/>
<rect x="358" y="304" width="15" height="14" fill="#d2db48"/>
<rect x="373" y="304" width="14" height="14" fill="#b4d24e"/>
<rect x="387" y="304" width="15" height="14" fill="#b4d24e"/>
<rect x="402" y="304" width="14" height="14" fill="#96ca54"/>
<rect x="416" y="304" width="15" height="14" fill="#96ca54"/>
<rect x="431" y="304" width="14" height="14" fill="#b4d24e"/>
<rect x="445" y="304" width="15" height="14" fill="#96ca54"/>
<rect x="460" y="304" width="14" height="14" fill="#78c15a"/>
<rect x="474" y="304" width="15" height="14" fill="#b4d24e"/>
<rect x="489" y="304" width="14" height="14" fill="#f0e442"/>
<rect x="40" y="318" width="14" height="15" fill="#5eb1df"/>
<rect x="54" y="318" width="15" height="15" fill="#5eb1df"/>
<rect x="69" y="318" width="14" height="15" fill="#5eb1df"/>
<rect x="83" y="318" width="15" height="15" fill="#5eb1df"/>
<rect x="98" y="318" width="14" height="15" fill="#5eb1df"/>
<rect x="112" y="318" width="15" height="15" fill="#5eb1df"/>
<rect x="127" y="318" width="14" height="15" fill="#5eb1df"/>
<rect x="141" y="318" width="15" height="15" fill="#5eb1df"/>
<rect x="156" y="318" width="14" height="15" fill="#56b4e9"/>
<rect x="170" y="318" width="15" height="15" fill="#56b4e9"/>
<rect x="185" y="318" width="14" height="15" fill="#56b4e9"/>
<rect x="199" y="318" width="15" height="15" fill="#2b93ce"/>
<rect x="214" y="318" width="14" height="15" fill="#0b7ab9"/>
<rect x="228" y="318" width="15" height="15" fill="#0072b2"/>
<rect x="243" y="318" width="14" height="15" fill="#0078aa"/>
<rect x="257" y="318" width="15" height="15" fill="#007da2"/>
<rect x="272" y="318" width="14" height="15" fill="#00829a"/>
<rect x="286" y="318" width="14" height="15" fill="#008892"/>
<rect x="300" y="318" width="15" height="15" fill="#009383"/>
<rect x="315" y="318" width="14" height="15" fill="#d2db48"/>
<rect x="329" y="318" width="15" height="15" fill="#efdb3a"/>
<rect x="344" y="318" width="14" height="15" fill="#96ca54"/>
<rect x="358" y="318" width="15" height="15" fill="#5ab861"/>
<rect x="373" y="318" width="14" height="15" fill="#96ca54"/>
<rect x="387" y="318" width="15" height="15" fill="#96ca54"/>
<rect x="402" y="318" width="14" height="15" fill="#96ca54"/>
<rect x="416" y="318" width="15" height="15" fill="#96ca54"/>
<rect x="431" y="318" width="14" height="15" fill="#96ca54"/>
<rect x="445" y="318" width="15" height="15" fill="#96ca54"/>
<rect x="460" y="318" width="14" height="15" fill="#d2db48"/>
<rect x="474" y="318" width="15" height="15" fill="#efdb3a"/>
<rect x="489" y="318" width="14" height="15" fill="#f0e442"/>
<rect x="40" y="333" width="14" height="14" fill="#5eb1df"/>
<rect x="54" y="333" width="15" height="14" fill="#5eb1df"/>
<rect x="69" y="333" width="14" height="14" fill="#5eb1df"/>
<rect x="83" y="333" width="15" height="14" fill="#5eb1df"/>
<rect x="98" y="333" width="14" height="14" fill="#5eb1df"/>
<rect x="112" y="333" width="15" height="14" fill="#5eb1df"/>
<rect x="127" y="333" width="14" height="14" fill="#5eb1df"/>
<rect x="141" y="333" width="15" height="14" fill="#56b4e9"/>
<rect x="156" y="333" width="14" height="14" fill="#56b4e9"/>
<rect x="170" y="333" width="15" height="14" fill="#56b4e9"/>
<rect x="185" y="333" width="14" height="14" fill="#56b4e9"/>
<rect x="199" y="333" width="15" height="14" fill="#40a4db"/>
<rect x="214" y="333" width="14" height="14" fill="#0078aa"/>
<rect x="228" y="333" width="15" height="14" fill="#0072b2"/>
<rect x="243" y="333" width="14" height="14" fill="#007da2"/>
<rect x="257" y="333" width="15" height="14" fill="#007da2"/>
<rect x="272" y="333" width="14" height="14" fill="#00829a"/>
<rect x="286" y="333" width="14" height="14" fill="#008892"/>
<rect x="300" y="333" width="15" height="14" fill="#00829a"/>
<rect x="315" y="333" width="14" height="14" fill="#d2db48"/>
<rect x="329" y="333" width="15" height="14" fill="#b4d24e"/>
<rect x="344" y="333" width="14" height="14" fill="#78c15a"/>
<rect x="358" y="333" width="15" height="14" fill="#009e73"/>
<rect x="373" y="333" width="14" height="14" fill="#3cb067"/>
<rect x="387" y="333" width="15" height="14" fill="#5ab861"/>
<rect x="402" y="333" width="14" height="14" fill="#78c15a"/>
<rect x="416" y="333" width="15" height="14" fill="#78c15a"/>
<rect x="431" y="333" width="14" height="14" fill="#96ca54"/>
<rect x="445" y="333" width="15" height="14" fill="#f0e442"/>
<rect x="460" y="333" width="14" height="14" fill="#efdb3a"/>
<rect x="474" y="333" width="15" height="14" fill="#f0e442"/>
<rect x="489" y="333" width="14" height="14" fill="#efdb3a"/>
<rect x="40" y="347" width="14" height="15" fill="#5eb1df"/>
<rect x="54" y="347" width="15" height="15" fill="#5eb1df"/>
<rect x="69" y="347" width="14" height="15" fill="#5eb1df"/>
<rect x="83" y="347" width="15" height="15" fill="#5eb1df"/>
<rect x="98" y="347" width="14" height="15" fill="#5eb1df"/>
<rect x="112" y="347" width="15" height="15" fill="#5eb1df"/>
<rect x="127" y="347" width="14" height="15" fill="#56b4e9"/>
<rect x="141" y="347" width="15" height="15" fill="#56b4e9"/>
<rect x="156" y="347" width="14" height="15" fill="#56b4e9"/>
<rect x="170" y="347" width="15" height="15" fill="#56b4e9"/>
<rect x="185" y="347" width="14" height="15" fill="#40a4db"/>
<rect x="199" y="347" width="15" height="15" fill="#40a4db"/>
<rect x="214" y="347" width="14" height="15" fill="#0b7ab9"/>
<rect x="228" y="347" width="15" height="15" fill="#0b7ab9"/>
<rect x="243" y="347" width="14" height="15" fill="#007da2"/>
<rect x="257" y="347" width="15" height="15" fill="#007da2"/>
<rect x="272" y="347" width="14" height="15" fill="#00829a"/>
<rect x="286" y="347" width="14" height="15" fill="#00829a"/>
<rect x="300" y="347" width="15" height="15" fill="#007da2"/>
<rect x="315" y="347" width="14" height="15" fill="#1ea76d"/>
<rect x="329" y="347" width="15" height="15" fill="#b4d24e"/>
<rect x="344" y="347" width="14" height="15" fill="#b4d24e"/>
<rect x="358" y="347" width="15" height="15" fill="#b4d24e"/>
<rect x="373" y="347" width="14" height="15" fill="#009e73"/>
<rect x="387" y="347" width="15" height="15" fill="#3cb067"/>
<rect x="402" y="347" width="14" height="15" fill="#78c15a"/>
<rect x="416" y="347" width="15" height="15" fill="#78c15a"/>
<rect x="431" y="347" width="14" height="15" fill="#96ca54"/>
<rect x="445" y="347" width="15" height="15" fill="#eed332"/>
<rect x="460" y="347" width="14" height="15" fill="#eed332"/>
<rect x="474" y="347" width="15" height="15" fill="#efdb3a"/>
<rect x="489" y="347" width="14" height="15" fill="#f0e442"/>
<rect x="40" y="362" width="14" height="14" fill="#5eb1df"/>
<rect x="54" y="362" width="15" height="14" fill="#5eb1df"/>
<rect x="69" y="362" width="14" height="14" fill="#5eb1df"/>
<rect x="83" y="362" width="15" height="14" fill="#5eb1df"/>
<rect x="98" y="362" width="14" height="14" fill="#5eb1df"/>
<rect x="112" y="362" width="15" height="14" fill="#5eb1df"/>
<rect x="127" y="362" width="14" height="14" fill="#56b4e9"/>
<rect x="141" y="362" width="15" height="14" fill="#56b4e9"/>
<rect x="156" y="362" width="14" height="14" fill="#56b4e9"/>
<rect x="170" y="362" width="15" height="14" fill="#4bace2"/>
<rect x="185" y="362" width="14" height="14" fill="#40a4db"/>
<rect x="199" y="362" width="15" height="14" fill="#40a4db"/>
<rect x="214" y="362" width="14" height="14" fill="#208bc7"/>
<rect x="228" y="362" width="15" height="14" fill="#0b7ab9"/>
<rect x="243" y="362" width="14" height="14" fill="#007da2"/>
<rect x="257" y="362" width="15" height="14" fill="#007da2"/>
<rect x="272" y="362" width="14" height="14" fill="#00829a"/>
<rect x="286" y="362" width="14" height="14" fill="#00829a"/>
<rect x="300" y="362" width="15" height="14" fill="#007da2"/>
<rect x="315" y="362" width="14" height="14" fill="#00987b"/>
<rect x="329" y="362" width="15" height="14" fill="#009e73"/>
<rect x="344" y="362" width="14" height="14" fill="#b4d24e"/>
<rect x="358" y="362" width="15" height="14" fill="#b4d24e"/>
<rect x="373" y="362" width="14" height="14" fill="#78c15a"/>
<rect x="387" y="362" width="15" height="14" fill="#78c15a"/>
<rect x="402" y="362" width="14" height="14" fill="#5ab861"/>
<rect x="416" y="362" width="15" height="14" fill="#78c15a"/>
<rect x="431" y="362" width="14" height="14" fill="#f0e442"/>
<rect x="445" y="362" width="15" height="14" fill="#efdb3a"/>
<rect x="460" y="362" width="14" height="14" fill="#efdb3a"/>
<rect x="474" y="362" width="15" height="14" fill="#f0e442"/>
<rect x="489" y="362" width="14" height="14" fill="#d2db48"/>
<rect x="40" y="376" width="14" height="15" fill="#5eb1df"/>
<rect x="54" y="376" width="15" height="15" fill="#5eb1df"/>
<rect x="69" y="376" width="14" height="15" fill="#5eb1df"/>
<rect x="83" y="376" width="15" height="15" fill="#5eb1df"/>
<rect x="98" y="376" width="14" height="15" fill="#5eb1df"/>
<rect x="112" y="376" width="15" height="15" fill="#5eb1df"/>
<rect x="127" y="376" width="14" height="15" fill="#56b4e9"/>
<rect x="141" y="376" width="15" height="15" fill="#56b4e9"/>
<rect x="156" y="376" width="14" height="15" fill="#56b4e9"/>
<rect x="170" y="376" width="15" height="15" fill="#4bace2"/>
<rect x="185" y="376" width="14" height="15" fill="#40a4db"/>
<rect x="199" y="376" width="15" height="15" fill="#40a4db"/>
<rect x="214" y="376" width="14" height="15" fill="#369bd4"/>
<rect x="228" y="376" width="15" height="15" fill="#0b7ab9"/>
<rect x="243" y="376" width="14" height="15" fill="#007da2"/>
<rect x="257" y="376" width="15" height="15" fill="#00829a"/>
<rect x="272" y="376" width="14" height="15" fill="#0072b2"/>
<rect x="286" y="376" width="14" height="15" fill="#00829a"/>
<rect x="300" y="376" width="15" height="15" fill="#00987b"/>
<rect x="315" y="376" width="14" height="15" fill="#3cb067"/>
<rect x="329" y="376" width="15" height="15" fill="#3cb067"/>
<rect x="344" y="376" width="14" height="15" fill="#b4d24e"/>
<rect x="358" y="376" width="15" height="15" fill="#b4d24e"/>
<rect x="373" y="376" width="14" height="15" fill="#96ca54"/>
<rect x="387" y="376" width="15" height="15" fill="#78c15a"/>
<rect x="402" y="376" width="14" height="15" fill="#5ab861"/>
<rect x="416" y="376" width="15" height="15" fill="#78c15a"/>
<rect x="431" y="376" width="14" height="15" fill="#96ca54"/>
<rect x="445" y="376" width="15" height="15" fill="#b4d24e"/>
<rect x="460" y="376" width="14" height="15" fill="#f0e442"/>
<rect x="474" y="376" width="15" height="15" fill="#b4d24e"/>
<rect x="489" y="376" width="14" height="15" fill="#b4d24e"/>
<rect x="40" y="391" width="14" height="14" fill="#5eb1df"/>
<rect x="54" y="391" width="15" height="14" fill="#5eb1df"/>
<rect x="69" y="391" width="14" height="14" fill="#5eb1df"/>
<rect x="83" y="391" width="15" height="14" fill="#5eb1df"/>
<rect x="98" y="391" width="14" height="14" fill="#5eb1df"/>
<rect x="112" y="391" width="15" height="14" fill="#56b4e9"/>
<rect x="127" y="391" width="14" height="14" fill="#56b4e9"/>
<rect x="141" y="391" width="15" height="14" fill="#4bace2"/>
<rect x="156" y="391" width="14" height="14" fill="#4bace2"/>
<rect x="170" y="391" width="15" height="14" fill="#4bace2"/>
<rect x="185" y="391" width="14" height="14" fill="#40a4db"/>
<rect x="199" y="391" width="15" height="14" fill="#40a4db"/>
<rect x="214" y="391" width="14" height="14" fill="#40a4db"/>
<rect x="228" y="391" width="15" height="14" fill="#0b7ab9"/>
<rect x="243" y="391" width="14" height="14" fill="#008892"/>
<rect x="257" y="391" width="15" height="14" fill="#008e8b"/>
<rect x="272" y="391" width="14" height="14" fill="#007da2"/>
<rect x="286" y="391" width="14" height="14" fill="#009383"/>
<rect x="300" y="391" width="15" height="14" fill="#1ea76d"/>
<rect x="315" y="391" width="14" height="14" fill="#5ab861"/>
<rect x="329" y="391" width="15" height="14" fill="#78c15a"/>
<rect x="344" y="391" width="14" height="14" fill="#78c15a"/>
<rect x="358" y="391" width="15" height="14" fill="#78c15a"/>
<rect x="373" y="391" width="14" height="14" fill="#5ab861"/>
<rect x="387" y="391" width="15" height="14" fill="#5ab861"/>
<rect x="402" y="391" width="14" height="14" fill="#5ab861"/>
<rect x="416" y="391" width="15" height="14" fill="#78c15a"/>
<rect x="431" y="391" width="14" height="14" fill="#96ca54"/>
<rect x="445" y="391" width="15" height="14" fill="#96ca54"/>
<rect x="460" y="391" width="14" height="14" fill="#96ca54"/>
<rect x="474" y="391" width="15" height="14" fill="#1ea76d"/>
<rect x="489" y="391" width="14" height="14" fill="#008e8b"/>
<rect x="40" y="405" width="14" height="15" fill="#5eb1df"/>
<rect x="54" y="405" width="15" height="15" fill="#5eb1df"/>
<rect x="69" y="405" width="14" height="15" fill="#5eb1df"/>
<rect x="83" y="405" width="15" height="15" fill="#5eb1df"/>
<rect x="98" y="405" width="14" height="15" fill="#5eb1df"/>
<rect x="112" y="405" width="15" height="15" fill="#56b4e9"/>
<rect x="127" y="405" width="14" height="15" fill="#56b4e9"/>
<rect x="141" y="405" width="15" height="15" fill="#4bace2"/>
<rect x="156" y="405" width="14" height="15" fill="#4bace2"/>
<rect x="170" y="405" width="15" height="15" fill="#4bace2"/>
<rect x="185" y="405" width="14" height="15" fill="#40a4db"/>
<rect x="199" y="405" width="15" height="15" fill="#40a4db"/>
<rect x="214" y="405" width="14" height="15" fill="#40a4db"/>
<rect x="228" y="405" width="15" height="15" fill="#208bc7"/>
<rect x="243" y="405" width="14" height="15" fill="#007da2"/>
<rect x="257" y="405" width="15" height="15" fill="#1ea76d"/>
<rect x="272" y="405" width="14" height="15" fill="#009e73"/>
<rect x="286" y="405" width="14" height="15" fill="#1ea76d"/>
<rect x="300" y="405" width="15" height="15" fill="#5ab861"/>
<rect x="315" y="405" width="14" height="15" fill="#5ab861"/>
<rect x="329" y="405" width="15" height="15" fill="#78c15a"/>
<rect x="344" y="405" width="14" height="15" fill="#78c15a"/>
<rect x="358" y="405" width="15" height="15" fill="#78c15a"/>
<rect x="373" y="405" width="14" height="15" fill="#5ab861"/>
<rect x="387" y="405" width="15" height="15" fill="#5ab861"/>
<rect x="402" y="405" width="14" height="15" fill="#78c15a"/>
<rect x="416" y="405" width="15" height="15" fill="#96ca54"/>
<rect x="431" y="405" width="14" height="15" fill="#b4d24e"/>
<rect x="445" y="405" width="15" height="15" fill="#96ca54"/>
<rect x="460" y="405" width="14" height="15" fill="#3cb067"/>
<rect x="474" y="405" width="15" height="15" fill="#008892"/>
<rect x="489" y="405" width="14" height="15" fill="#208bc7"/>
<rect x="40" y="420" width="14" height="14" fill="#5eb1df"/>
<rect x="54" y="420" width="15" height="14" fill="#5eb1df"/>
<rect x="69" y="420" width="14" height="14" fill="#5eb1df"/>
<rect x="83" y="420" width="15" height="14" fill="#5eb1df"/>
<rect x="98" y="420" width="14" height="14" fill="#56b4e9"/>
<rect x="112" y="420" width="15" height="14" fill="#56b4e9"/>
<rect x="127" y="420" width="14" height="14" fill="#4bace2"/>
<rect x="141" y="420" width="15" height="14" fill="#4bace2"/>
<rect x="156" y="420" width="14" height="14" fill="#4bace2"/>
<rect x="170" y="420" width="15" height="14" fill="#4bace2"/>
<rect x="185" y="420" width="14" height="14" fill="#40a4db"/>
<rect x="199" y="420" width="15" height="14" fill="#40a4db"/>
<rect x="214" y="420" width="14" height="14" fill="#40a4db"/>
<rect x="228" y="420" width="15" height="14" fill="#369bd4"/>
<rect x="243" y="420" width="14" height="14" fill="#0b7ab9"/>
<rect x="257" y="420" width="15" height="14" fill="#1ea76d"/>
<rect x="272" y="420" width="14" height="14" fill="#96ca54"/>
<rect x="286" y="420" width="14" height="14" fill="#d2db48"/>
<rect x="300" y="420" width="15" height="14" fill="#f0e442"/>
<rect x="315" y="420" width="14" height="14" fill="#f0e442"/>
<rect x="329" y="420" width="15" height="14" fill="#f0e442"/>
<rect x="344" y="420" width="14" height="14" fill="#f0e442"/>
<rect x="358" y="420" width="15" height="14" fill="#f0e442"/>
<rect x="373" y="420" width="14" height="14" fill="#f0e442"/>
<rect x="387" y="420" width="15" height="14" fill="#f0e442"/>
<rect x="402" y="420" width="14" height="14" fill="#f0e442"/>
<rect x="416" y="420" width="15" height="14" fill="#f0e442"/>
<rect x="431" y="420" width="14" height="14" fill="#96ca54"/>
<rect x="445" y="420" width="15" height="14" fill="#5ab861"/>
<rect x="460" y="420" width="14" height="14" fill="#007da2"/>
<rect x="474" y="420" width="15" height="14" fill="#2b93ce"/>
<rect x="489" y="420" width="14" height="14" fill="#67add5"/>
<rect x="40" y="434" width="14" height="15" fill="#5eb1df"/>
<rect x="54" y="434" width="15" height="15" fill="#5eb1df"/>
<rect x="69" y="434" width="14" height="15" fill="#5eb1df"/>
<rect x="83" y="434" width="15" height="15" fill="#5eb1df"/>
<rect x="98" y="434" width="14" height="15" fill="#56b4e9"/>
<rect x="112" y="434" width="15" height="15" fill="#56b4e9"/>
<rect x="127" y="434" width="14" height="15" fill="#4bace2"/>
<rect x="141" y="434" width="15" height="15" fill="#4bace2"/>
<rect x="156" y="434" width="14" height="15" fill="#4bace2"/>
<rect x="170" y="434" width="15" height="15" fill="#4bace2"/>
<rect x="185" y="434" width="14" height="15" fill="#40a4db"/>
<rect x="199" y="434" width="15" height="15" fill="#40a4db"/>
<rect x="214" y="434" width="14" height="15" fill="#40a4db"/>
<rect x="228" y="434" width="15" height="15" fill="#369bd4"/>
<rect x="243" y="434" width="14" height="15" fill="#1682c0"/>
<rect x="257" y="434" width="15" height="15" fill="#0078aa"/>
<rect x="272" y="434" width="14" height="15" fill="#3cb067"/>
<rect x="286" y="434" width="14" height="15" fill="#96ca54"/>
<rect x="300" y="434" width="15" height="15" fill="#efdb3a"/>
<rect x="315" y="434" width="14" height="15" fill="#eab919"/>
<rect x="329" y="434" width="15" height="15" fill="#eab919"/>
<rect x="344" y="434" width="14" height="15" fill="#ebc221"/>
<rect x="358" y="434" width="15" height="15" fill="#ebc221"/>
<rect x="373" y="434" width="14" height="15" fill="#ecca29"/>
<rect x="387" y="434" width="15" height="15" fill="#eed332"/>
<rect x="402" y="434" width="14" height="15" fill="#ecca29"/>
<rect x="416" y="434" width="15" height="15" fill="#eed332"/>
<rect x="431" y="434" width="14" height="15" fill="#96ca54"/>
<rect x="445" y="434" width="15" height="15" fill="#008e8b"/>
<rect x="460" y="434" width="14" height="15" fill="#0b7ab9"/>
<rect x="474" y="434" width="15" height="15" fill="#40a4db"/>
<rect x="489" y="434" width="14" height="15" fill="#6faacb"/>
<rect x="40" y="449" width="14" height="14" fill="#5eb1df"/>
<rect x="54" y="449" width="15" height="14" fill="#5eb1df"/>
<rect x="69" y="449" width="14" height="14" fill="#5eb1df"/>
<rect x="83" y="449" width="15" height="14" fill="#5eb1df"/>
<rect x="98" y="449" width="14" height="14" fill="#56b4e9"/>
<rect x="112" y="449" width="15" height="14" fill="#56b4e9"/>
<rect x="127" y="449" width="14" height="14" fill="#4bace2"/>
<rect x="141" y="449" width="15" height="14" fill="#40a4db"/>
<rect x="156" y="449" width="14" height="14" fill="#40a4db"/>
<rect x="170" y="449" width="15" height="14" fill="#4bace2"/>
<rect x="185" y="449" width="14" height="14" fill="#40a4db"/>
<rect x="199" y="449" width="15" height="14" fill="#40a4db"/>
<rect x="214" y="449" width="14" height="14" fill="#40a4db"/>
<rect x="228" y="449" width="15" height="14" fill="#369bd4"/>
<rect x="243" y="449" width="14" height="14" fill="#2b93ce"/>
<rect x="257" y="449" width="15" height="14" fill="#0b7ab9"/>
<rect x="272" y="449" width="14" height="14" fill="#00829a"/>
<rect x="286" y="449" width="14" height="14" fill="#007da2"/>
<rect x="300" y="449" width="15" height="14" fill="#5ab861"/>
<rect x="315" y="449" width="14" height="14" fill="#f0e442"/>
<rect x="329" y="449" width="15" height="14" fill="#ecca29"/>
<rect x="344" y="449" width="14" height="14" fill="#efdb3a"/>
<rect x="358" y="449" width="15" height="14" fill="#efdb3a"/>
<rect x="373" y="449" width="14" height="14" fill="#f0e442"/>
<rect x="387" y="449" width="15" height="14" fill="#d2db48"/>
<rect x="402" y="449" width="14" height="14" fill="#b4d24e"/>
<rect x="416" y="449" width="15" height="14" fill="#96ca54"/>
<rect x="431" y="449" width="14" height="14" fill="#009e73"/>
<rect x="445" y="449" width="15" height="14" fill="#0078aa"/>
<rect x="460" y="449" width="14" height="14" fill="#369bd4"/>
<rect x="474" y="449" width="15" height="14" fill="#56b4e9"/>
<rect x="489" y="449" width="14" height="14" fill="#6faacb"/>
<rect x="40" y="463" width="14" height="15" fill="#56b4e9"/>
<rect x="54" y="463" width="15" height="15" fill="#56b4e9"/>
<rect x="69" y="463" width="14" height="15" fill="#5eb1df"/>
<rect x="83" y="463" width="15" height="15" fill="#5eb1df"/>
<rect x="98" y="463" width="14" height="15" fill="#56b4e9"/>
<rect x="112" y="463" width="15" height="15" fill="#40a4db"/>
<rect x="127" y="463" width="14" height="15" fill="#40a4db"/>
<rect x="141" y="463" width="15" height="15" fill="#40a4db"/>
<rect x="156" y="463" width="14" height="15" fill="#40a4db"/>
<rect x="170" y="463" width="15" height="15" fill="#4bace2"/>
<rect x="185" y="463" width="14" height="15" fill="#40a4db"/>
<rect x="199" y="463" width="15" height="15" fill="#40a4db"/>
<rect x="214" y="463" width="14" height="15" fill="#369bd4"/>
<rect x="228" y="463" width="15" height="15" fill="#369bd4"/>
<rect x="243" y="463" width="14" height="15" fill="#2b93ce"/>
<rect x="257" y="463" width="15" height="15" fill="#208bc7"/>
<rect x="272" y="463" width="14" height="15" fill="#0b7ab9"/>
<rect x="286" y="463" width="14" height="15" fill="#0b7ab9"/>
<rect x="300" y="463" width="15" height="15" fill="#009383"/>
<rect x="315" y="463" width="14" height="15" fill="#5ab861"/>
<rect x="329" y="463" width="15" height="15" fill="#96ca54"/>
<rect x="344" y="463" width="14" height="15" fill="#f0e442"/>
<rect x="358" y="463" width="15" height="15" fill="#efdb3a"/>
<rect x="373" y="463" width="14" height="15" fill="#f0e442"/>
<rect x="387" y="463" width="15" height="15" fill="#78c15a"/>
<rect x="402" y="463" width="14" height="15" fill="#1ea76d"/>
<rect x="416" y="463" width="15" height="15" fill="#008892"/>
<rect x="431" y="463" width="14" height="15" fill="#0b7ab9"/>
<rect x="445" y="463" width="15" height="15" fill="#208bc7"/>
<rect x="460" y="463" width="14" height="15" fill="#40a4db"/>
<rect x="474" y="463" width="15" height="15" fill="#67add5"/>
<rect x="489" y="463" width="14" height="15" fill="#88a0ad"/>
<rect x="40" y="478" width="14" height="14" fill="#56b4e9"/>
<rect x="54" y="478" width="15" height="14" fill="#56b4e9"/>
<rect x="69" y="478" width="14" height="14" fill="#5eb1df"/>
<rect x="83" y="478" width="15" height="14" fill="#5eb1df"/>
<rect x="98" y="478" width="14" height="14" fill="#56b4e9"/>
<rect x="112" y="478" width="15" height="14" fill="#4bace2"/>
<rect x="127" y="478" width="14" height="14" fill="#40a4db"/>
<rect x="141" y="478" width="15" height="14" fill="#40a4db"/>
<rect x="156" y="478" width="14" height="14" fill="#40a4db"/>
<rect x="170" y="478" width="15" height="14" fill="#40a4db"/>
<rect x="185" y="478" width="14" height="14" fill="#40a4db"/>
<rect x="199" y="478" width="15" height="14" fill="#40a4db"/>
<rect x="214" y="478" width="14" height="14" fill="#369bd4"/>
<rect x="228" y="478" width="15" height="14" fill="#369bd4"/>
<rect x="243" y="478" width="14" height="14" fill="#369bd4"/>
<rect x="257" y="478" width="15" height="14" fill="#2b93ce"/>
<rect x="272" y="478" width="14" height="14" fill="#0b7ab9"/>
<rect x="286" y="478" width="14" height="14" fill="#0078aa"/>
<rect x="300" y="478" width="15" height="14" fill="#007da2"/>
<rect x="315" y="478" width="14" height="14" fill="#008e8b"/>
<rect x="329" y="478" width="15" height="14" fill="#009e73"/>
<rect x="344" y="478" width="14" height="14" fill="#78c15a"/>
<rect x="358" y="478" width="15" height="14" fill="#b4d24e"/>
<rect x="373" y="478" width="14" height="14" fill="#5ab861"/>
<rect x="387" y="478" width="15" height="14" fill="#3cb067"/>
<rect x="402" y="478" width="14" height="14" fill="#009e73"/>
<rect x="416" y="478" width="15" height="14" fill="#00829a"/>
<rect x="431" y="478" width="14" height="14" fill="#0b7ab9"/>
<rect x="445" y="478" width="15" height="14" fill="#2b93ce"/>
<rect x="460" y="478" width="14" height="14" fill="#56b4e9"/>
<rect x="474" y="478" width="15" height="14" fill="#78a6c1"/>
<rect x="489" y="478" width="14" height="14" fill="#78a6c1"/>
<rect x="40" y="492" width="14" height="15" fill="#56b4e9"/>
<rect x="54" y="492" width="15" height="15" fill="#56b4e9"/>
<rect x="69" y="492" width="14" height="15" fill="#5eb1df"/>
<rect x="83" y="492" width="15" height="15" fill="#56b4e9"/>
<rect x="98" y="492" width="14" height="15" fill="#56b4e9"/>
<rect x="112" y="492" width="15" height="15" fill="#4bace2"/>
<rect x="127" y="492" width="14" height="15" fill="#40a4db"/>
<rect x="141" y="492" width="15" height="15" fill="#40a4db"/>
<rect x="156" y="492" width="14" height="15" fill="#40a4db"/>
<rect x="170" y="492" width="15" height="15" fill="#40a4db"/>
<rect x="185" y="492" width="14" height="15" fill="#40a4db"/>
<rect x="199" y="492" width="15" height="15" fill="#40a4db"/>
<rect x="214" y="492" width="14" height="15" fill="#40a4db"/>
<rect x="228" y="492" width="15" height="15" fill="#369bd4"/>
<rect x="243" y="492" width="14" height="15" fill="#369bd4"/>
<rect x="257" y="492" width="15" height="15" fill="#2b93ce"/>
<rect x="272" y="492" width="14" height="15" fill="#208bc7"/>
<rect x="286" y="492" width="14" height="15" fill="#0b7ab9"/>
<rect x="300" y="492" width="15" height="15" fill="#0072b2"/>
<rect x="315" y="492" width="14" height="15" fill="#00829a"/>
<rect x="329" y="492" width="15" height="15" fill="#009e73"/>
<rect x="344" y="492" width="14" height="15" fill="#78c15a"/>
<rect x="358" y="492" width="15" height="15" fill="#b4d24e"/>
<rect x="373" y="492" width="14" height="15" fill="#5ab861"/>
<rect x="387" y="492" width="15" height="15" fill="#1ea76d"/>
<rect x="402" y="492" width="14" height="15" fill="#009e73"/>
<rect x="416" y="492" width="15" height="15" fill="#008892"/>
<rect x="431" y="492" width="14" height="15" fill="#0b7ab9"/>
<rect x="445" y="492" width="15" height="15" fill="#2b93ce"/>
<rect x="460" y="492" width="14" height="15" fill="#56b4e9"/>
<rect x="474" y="492" width="15" height="15" fill="#80a3b7"/>
<rect x="489" y="492" width="14" height="15" fill="#80a3b7"/>
<rect x="40" y="507" width="14" height="14" fill="#56b4e9"/>
<rect x="54" y="507" width="15" height="14" fill="#56b4e9"/>
<rect x="69" y="507" width="14" height="14" fill="#5eb1df"/>
<rect x="83" y="507" width="15" height="14" fill="#56b4e9"/>
<rect x="98" y="507" width="14" height="14" fill="#56b4e9"/>
<rect x="112" y="507" width="15" height="14" fill="#4bace2"/>
<rect x="127" y="507" width="14" height="14" fill="#40a4db"/>
<rect x="141" y="507" width="15" height="14" fill="#40a4db"/>
<rect x="156" y="507" width="14" height="14" fill="#40a4db"/>
<rect x="170" y="507" width="15" height="14" fill="#40a4db"/>
<rect x="185" y="507" width="14" height="14" fill="#40a4db"/>
<rect x="199" y="507" width="15" height="14" fill="#40a4db"/>
<rect x="214" y="507" width="14" height="14" fill="#40a4db"/>
<rect x="228" y="507" width="15" height="14" fill="#369bd4"/>
<rect x="243" y="507" width="14" height="14" fill="#369bd4"/>
<rect x="257" y="507" width="15" height="14" fill="#369bd4"/>
<rect x="272" y="507" width="14" height="14" fill="#2b93ce"/>
<rect x="286" y="507" width="14" height="14" fill="#1682c0"/>
<rect x="300" y="507" width="15" height="14" fill="#0b7ab9"/>
<rect x="315" y="507" width="14" height="14" fill="#0078aa"/>
<rect x="329" y="507" width="15" height="14" fill="#009e73"/>
<rect x="344" y="507" width="14" height="14" fill="#5ab861"/>
<rect x="358" y="507" width="15" height="14" fill="#5ab861"/>
<rect x="373" y="507" width="14" height="14" fill="#1ea76d"/>
<rect x="387" y="507" width="15" height="14" fill="#1ea76d"/>
<rect x="402" y="507" width="14" height="14" fill="#009e73"/>
<rect x="416" y="507" width="15" height="14" fill="#008e8b"/>
<rect x="431" y="507" width="14" height="14" fill="#1682c0"/>
<rect x="445" y="507" width="15" height="14" fill="#369bd4"/>
<rect x="460" y="507" width="14" height="14" fill="#56b4e9"/>
<rect x="474" y="507" width="15" height="14" fill="#80a3b7"/>
<rect x="489" y="507" width="14" height="14" fill="#67add5"/>
<rect x="40" y="521" width="14" height="15" fill="#56b4e9"/>
<rect x="54" y="521" width="15" height="15" fill="#56b4e9"/>
<rect x="69" y="521" width="14" height="15" fill="#5eb1df"/>
<rect x="83" y="521" width="15" height="15" fill="#56b4e9"/>
<rect x="98" y="521" width="14" height="15" fill="#56b4e9"/>
<rect x="112" y="521" width="15" height="15" fill="#4bace2"/>
<rect x="127" y="521" width="14" height="15" fill="#40a4db"/>
<rect x="141" y="521" width="15" height="15" fill="#40a4db"/>
<rect x="156" y="521" width="14" height="15" fill="#40a4db"/>
<rect x="170" y="521" width="15" height="15" fill="#40a4db"/>
<rect x="185" y="521" width="14" height="15" fill="#40a4db"/>
<rect x="199" y="521" width="15" height="15" fill="#40a4db"/>
<rect x="214" y="521" width="14" height="15" fill="#40a4db"/>
<rect x="228" y="521" width="15" height="15" fill="#40a4db"/>
<rect x="243" y="521" width="14" height="15" fill="#369bd4"/>
<rect x="257" y="521" width="15" height="15" fill="#369bd4"/>
<rect x="272" y="521" width="14" height="15" fill="#369bd4"/>
<rect x="286" y="521" width="14" height="15" fill="#208bc7"/>
<rect x="300" y="521" width="15" height="15" fill="#1682c0"/>
<rect x="315" y="521" width="14" height="15" fill="#0b7ab9"/>
<rect x="329" y="521" width="15" height="15" fill="#009383"/>
<rect x="344" y="521" width="14" height="15" fill="#3cb067"/>
<rect x="358" y="521" width="15" height="15" fill="#3cb067"/>
<rect x="373" y="521" width="14" height="15" fill="#1ea76d"/>
<rect x="387" y="521" width="15" height="15" fill="#009e73"/>
<rect x="402" y="521" width="14" height="15" fill="#00987b"/>
<rect x="416" y="521" width="15" height="15" fill="#008e8b"/>
<rect x="431" y="521" width="14" height="15" fill="#1682c0"/>
<rect x="445" y="521" width="15" height="15" fill="#4bace2"/>
<rect x="460" y="521" width="14" height="15" fill="#67add5"/>
<rect x="474" y="521" width="15" height="15" fill="#67add5"/>
<rect x="489" y="521" width="14" height="15" fill="#56b4e9"/>
<rect x="40" y="536" width="14" height="14" fill="#56b4e9"/>
<rect x="54" y="536" width="15" height="14" fill="#56b4e9"/>
<rect x="69" y="536" width="14" height="14" fill="#56b4e9"/>
<rect x="83" y="536" width="15" height="14" fill="#56b4e9"/>
<rect x="98" y="536" width="14" height="14" fill="#56b4e9"/>
<rect x="112" y="536" width="15" height="14" fill="#4bace2"/>
<rect x="127" y="536" width="14" height="14" fill="#40a4db"/>
<rect x="141" y="536" width="15" height="14" fill="#40a4db"/>
<rect x="156" y="536" width="14" height="14" fill="#40a4db"/>
<rect x="170" y="536" width="15" height="14" fill="#40a4db"/>
<rect x="185" y="536" width="14" height="14" fill="#40a4db"/>
<rect x="199" y="536" width="15" height="14" fill="#40a4db"/>
<rect x="214" y="536" width="14" height="14" fill="#40a4db"/>
<rect x="228" y="536" width="15" height="14" fill="#40a4db"/>
<rect x="243" y="536" width="14" height="14" fill="#369bd4"/>
<rect x="257" y="536" width="15" height="14" fill="#369bd4"/>
<rect x="272" y="536" width="14" height="14" fill="#40a4db"/>
<rect x="286" y="536" width="14" height="14" fill="#2b93ce"/>
<rect x="300" y="536" width="15" height="14" fill="#208bc7"/>
<rect x="315" y="536" width="14" height="14" fill="#0b7ab9"/>
<rect x="329" y="536" width="15" height="14" fill="#008e8b"/>
<rect x="344" y="536" width="14" height="14" fill="#009e73"/>
<rect x="358" y="536" width="15" height="14" fill="#3cb067"/>
<rect x="373" y="536" width="14" height="14" fill="#0078aa"/>
<rect x="387" y="536" width="15" height="14" fill="#0b7ab9"/>
<rect x="402" y="536" width="14" height="14" fill="#2b93ce"/>
<rect x="416" y="536" width="15" height="14" fill="#56b4e9"/>
<rect x="431" y="536" width="14" height="14" fill="#5eb1df"/>
<rect x="445" y="536" width="15" height="14" fill="#67add5"/>
<rect x="460" y="536" width="14" height="14" fill="#5eb1df"/>
<rect x="474" y="536" width="15" height="14" fill="#56b4e9"/>
<rect x="489" y="536" width="14" height="14" fill="#4bace2"/>
<rect x="40" y="550" width="14" height="14" fill="#56b4e9"/>
<rect x="54" y="550" width="15" height="14" fill="#56b4e9"/>
<rect x="69" y="550" width="14" height="14" fill="#56b4e9"/>
<rect x="83" y="550" width="15" height="14" fill="#56b4e9"/>
<rect x="98" y="550" width="14" height="14" fill="#4bace2"/>
<rect x="112" y="550" width="15" height="14" fill="#4bace2"/>
<rect x="127" y="550" width="14" height="14" fill="#4bace2"/>
<rect x="141" y="550" width="15" height="14" fill="#40a4db"/>
<rect x="156" y="550" width="14" height="14" fill="#40a4db"/>
<rect x="170" y="550" width="15" height="14" fill="#40a4db"/>
<rect x="185" y="550" width="14" height="14" fill="#40a4db"/>
<rect x="199" y="550" width="15" height="14" fill="#40a4db"/>
<rect x="214" y="550" width="14" height="14" fill="#40a4db"/>
<rect x="228" y="550" width="15" height="14" fill="#40a4db"/>
<rect x="243" y="550" width="14" height="14" fill="#40a4db"/>
<rect x="257" y="550" width="15" height="14" fill="#369bd4"/>
<rect x="272" y="550" width="14" height="14" fill="#40a4db"/>
<rect x="286" y="550" width="14" height="14" fill="#369bd4"/>
<rect x="300" y="550" width="15" height="14" fill="#2b93ce"/>
<rect x="315" y="550" width="14" height="14" fill="#1682c0"/>
<rect x="329" y="550" width="15" height="14" fill="#008892"/>
<rect x="344" y="550" width="14" height="14" fill="#009383"/>
<rect x="358" y="550" width="15" height="14" fill="#0b7ab9"/>
<rect x="373" y="550" width="14" height="14" fill="#369bd4"/>
<rect x="387" y="550" width="15" height="14" fill="#67add5"/>
<rect x="402" y="550" width="14" height="14" fill="#6faacb"/>
<rect x="416" y="550" width="15" height="14" fill="#6faacb"/>
<rect x="431" y="550" width="14" height="14" fill="#78a6c1"/>
<rect x="445" y="550" width="15" height="14" fill="#67add5"/>
<rect x="460" y="550" width="14" height="14" fill="#56b4e9"/>
<rect x="474" y="550" width="15" height="14" fill="#40a4db"/>
<rect x="489" y="550" width="14" height="14" fill="#369bd4"/>
<rect x="40" y="564" width="14" height="15" fill="#56b4e9"/>
<rect x="54" y="564" width="15" height="15" fill="#56b4e9"/>
<rect x="69" y="564" width="14" height="15" fill="#56b4e9"/>
<rect x="83" y="564" width="15" height="15" fill="#56b4e9"/>
<rect x="98" y="564" width="14" height="15" fill="#4bace2"/>
<rect x="112" y="564" width="15" height="15" fill="#4bace2"/>
<rect x="127" y="564" width="14" height="15" fill="#40a4db"/>
<rect x="141" y="564" width="15" height="15" fill="#40a4db"/>
<rect x="156" y="564" width="14" height="15" fill="#40a4db"/>
<rect x="170" y="564" width="15" height="15" fill="#40a4db"/>
<rect x="185" y="564" width="14" height="15" fill="#40a4db"/>
<rect x="199" y="564" width="15" height="15" fill="#40a4db"/>
<rect x="214" y="564" width="14" height="15" fill="#40a4db"/>
<rect x="228" y="564" width="15" height="15" fill="#40a4db"/>
<rect x="243" y="564" width="14" height="15" fill="#40a4db"/>
<rect x="257" y="564" width="15" height="15" fill="#40a4db"/>
<rect x="272" y="564" width="14" height="15" fill="#40a4db"/>
<rect x="286" y="564" width="14" height="15" fill="#369bd4"/>
<rect x="300" y="564" width="15" height="15" fill="#2b93ce"/>
<rect x="315" y="564" width="14" height="15" fill="#1682c0"/>
<rect x="329" y="564" width="15" height="15" fill="#0078aa"/>
<rect x="344" y="564" width="14" height="15" fill="#00829a"/>
<rect x="358" y="564" width="15" height="15" fill="#208bc7"/>
<rect x="373" y="564" width="14" height="15" fill="#4bace2"/>
<rect x="387" y="564" width="15" height="15" fill="#67add5"/>
<rect x="402" y="564" width="14" height="15" fill="#67add5"/>
<rect x="416" y="564" width="15" height="15" fill="#67add5"/>
<rect x="431" y="564" width="14" height="15" fill="#5eb1df"/>
<rect x="445" y="564" width="15" height="15" fill="#56b4e9"/>
<rect x="460" y="564" width="14" height="15" fill="#40a4db"/>
<rect x="474" y="564" width="15" height="15" fill="#2b93ce"/>
<rect x="489" y="564" width="14" height="15" fill="#208bc7"/>
</g>
<g clip-path="url(#c0)" fill="none" stroke="#000" stroke-width="0.8" stroke-linejoin="round">
<polyline points="196.0,51.3 280.0,75.8 329.1,88.9 400.0,106.2 424.6,112.0 513.6,130.4"/>
<polyline points="424.7,112.0 427.1,104.1 440.6,40.3 441.8,34.4 443.2,31.2 445.4,28.8"/>
<polyline points="187.9,224.2 189.2,228.3 190.4,231.7"/>
<polyline points="188.2,224.3 189.7,228.8 190.8,231.7"/>
<polyline points="183.3,233.8 185.8,230.8 187.5,228.3"/>
<polyline points="183.8,234.2 186.2,231.2"/>
<polyline points="201.7,234.2 205.8,232.9 209.2,233.8 213.3,236.7 216.7,239.2 221.7,241.7 227.5,242.5 230.0,240.8 233.3,244.2 236.7,248.8"/>
<polyline points="228.3,240.4 230.4,242.9 235.8,248.3"/>
<polyline points="227.5,242.1 232.5,243.8 236.2,248.3"/>
<polyline points="199.2,244.2 201.7,246.2 201.2,250.8 200.8,255.0 203.3,259.2 206.7,261.7 209.2,265.8 207.5,265.0 206.7,262.5"/>
<polyline points="401.1,565.3 401.6,567.8 404.2,569.9 406.7,572.4 409.2,574.9 411.8,578.5 412.8,580.0 410.7,580.0 408.7,577.4 407.2,574.4 405.2,571.4 402.7,568.8 401.3,567.1"/>
<polyline points="402.1,592.8 403.7,586.6 406.2,582.5 408.2,579.5 407.7,576.4 406.7,574.4"/>
<polyline points="411.8,578.5 413.8,576.9 415.8,577.4 419.4,582.5 424.4,588.1 429.0,592.8"/>
<polyline points="437.6,592.6 437.4,588.6 438.6,586.6 438.4,589.1 441.1,589.6 444.7,592.8"/>
<polyline points="194.6,29.0 192.6,35.0 193.4,39.0 192.6,45.1 194.2,49.1 196.0,51.5 194.6,56.1 191.8,60.1 194.2,64.1 193.4,72.2 191.2,79.2 187.2,86.2 184.6,91.2 184.6,95.3 183.2,100.3 179.2,104.3 173.1,109.3 169.7,115.3 168.5,122.4 170.1,127.4 173.7,133.4 177.1,141.4 179.2,149.5 178.2,157.5 176.1,163.9"/>
<polyline points="329.2,88.9 309.7,163.9"/>
<polyline points="175.7,164.0 173.7,170.0 174.1,178.1 171.3,185.1 174.1,192.1 178.2,200.1 182.2,209.2 185.8,217.2 187.2,224.2 189.2,231.3 191.2,237.3 195.2,241.3 197.2,246.3 196.2,252.4 195.2,258.4 196.6,264.4 194.2,272.4 197.2,280.5 202.2,288.5 208.3,292.5 210.3,298.9"/>
<polyline points="310.1,164.0 299.6,204.2 295.6,218.2 349.8,298.9"/>
<polyline points="513.4,174.0 489.7,298.9"/>
<polyline points="210.3,299.0 206.3,302.0 201.2,304.0 201.8,311.0 200.6,317.1 204.3,322.1 207.3,329.1 210.3,336.1 212.3,342.2 215.3,349.2 219.3,355.2 222.3,361.2 222.3,369.3 224.3,374.3 229.4,378.3 230.4,383.3 227.3,388.4 226.3,395.4 224.3,402.4 228.0,406.4 229.4,411.0 238.4,412.5 244.4,415.5 252.4,419.5 260.5,424.5 268.5,429.5 272.5,433.9"/>
<polyline points="350.1,299.0 441.9,432.5"/>
<polyline points="490.3,299.0 479.6,351.6 476.6,363.3 474.6,379.3 471.6,388.4 467.6,393.0 463.0,391.4 461.6,387.4 456.5,385.3 450.5,384.9 447.5,386.3 447.5,395.4 445.5,411.4 446.1,423.5 443.5,429.5 441.9,432.5"/>
<polyline points="479.6,351.6 513.4,357.2"/>
<polyline points="270.5,434.0 276.5,439.0 283.6,444.0 291.6,445.0 295.6,450.1 294.6,458.1 298.6,462.1 304.7,463.1 310.7,470.1 317.7,478.2 323.7,486.6 327.1,494.2 328.4,507.3 325.7,513.3 326.7,518.3 328.8,524.4"/>
<polyline points="441.9,434.0 442.5,441.0 445.5,446.0 447.5,458.1 451.5,464.1 454.1,470.1 445.5,474.2 438.5,481.2 435.5,488.2 434.9,494.2 430.4,500.3 424.4,505.3 423.4,514.3 424.4,520.3 430.0,523.4 429.4,529.4 425.4,534.4"/>
<polyline points="329.0,524.4 390.3,531.4 420.4,534.4 414.4,543.4 415.6,544.6"/>
<polyline points="328.5,524.4 330.1,532.0 333.7,539.1 335.1,548.1 340.2,555.1 341.2,559.2 338.2,563.2 336.1,569.2 339.2,575.2 343.2,582.2 345.8,588.3 346.6,592.7"/>
<polyline points="336.5,561.2 339.2,564.2"/>
<polyline points="414.5,543.1 497.8,592.7"/>
</g>
<g clip-path="url(#c0)" stroke="#000" stroke-width="0.78">
<circle cx="242.6" cy="54.9" r="3.8" fill="#369bd4"/>
<circle cx="241.4" cy="77.8" r="3.8" fill="#4bace2"/>
<circle cx="179.8" cy="103.3" r="3.8" fill="#6faacb"/>
<circle cx="236.4" cy="124.2" r="3.8" fill="#67add5"/>
<circle cx="235.4" cy="130.4" r="3.8" fill="#4bace2"/>
<circle cx="236.6" cy="135.4" r="3.8" fill="#5eb1df"/>
<circle cx="260.9" cy="138.4" r="3.8" fill="#56b4e9"/>
<circle cx="241.2" cy="145.5" r="3.8" fill="#40a4db"/>
<circle cx="234.2" cy="148.1" r="3.8" fill="#4bace2"/>
<circle cx="461.4" cy="47.5" r="3.8" fill="#369bd4"/>
<circle cx="467.0" cy="49.5" r="3.8" fill="#369bd4"/>
<circle cx="243.4" cy="169.0" r="3.8" fill="#1682c0"/>
<circle cx="250.2" cy="172.0" r="3.8" fill="#1682c0"/>
<circle cx="229.0" cy="176.0" r="3.8" fill="#208bc7"/>
<circle cx="190.8" cy="182.7" r="3.8" fill="#88a0ad"/>
<circle cx="198.8" cy="190.9" r="3.8" fill="#919ca3"/>
<circle cx="230.8" cy="192.1" r="3.8" fill="#4bace2"/>
<circle cx="237.4" cy="193.3" r="3.8" fill="#369bd4"/>
<circle cx="243.2" cy="198.1" r="3.8" fill="#5eb1df"/>
<circle cx="264.9" cy="205.8" r="3.8" fill="#40a4db"/>
<circle cx="261.3" cy="214.6" r="3.8" fill="#208bc7"/>
<circle cx="258.1" cy="211.6" r="3.8" fill="#56b4e9"/>
<circle cx="249.2" cy="212.2" r="3.8" fill="#5eb1df"/>
<circle cx="233.8" cy="217.4" r="3.8" fill="#56b4e9"/>
<circle cx="194.0" cy="218.2" r="3.8" fill="#999999"/>
<circle cx="230.6" cy="222.6" r="3.8" fill="#4bace2"/>
<circle cx="250.4" cy="218.2" r="3.8" fill="#369bd4"/>
<circle cx="253.1" cy="221.8" r="3.8" fill="#40a4db"/>
<circle cx="245.8" cy="222.8" r="3.8" fill="#369bd4"/>
<circle cx="240.4" cy="223.6" r="3.8" fill="#4bace2"/>
<circle cx="265.5" cy="223.0" r="3.8" fill="#0b7ab9"/>
<circle cx="249.2" cy="229.5" r="3.8" fill="#208bc7"/>
<circle cx="222.9" cy="228.3" r="3.8" fill="#4bace2"/>
<circle cx="216.9" cy="232.9" r="3.8" fill="#56b4e9"/>
<circle cx="209.9" cy="236.7" r="3.8" fill="#80a3b7"/>
<circle cx="239.8" cy="235.7" r="3.8" fill="#4bace2"/>
<circle cx="198.8" cy="239.5" r="3.8" fill="#a6a6a6"/>
<circle cx="204.3" cy="241.9" r="3.8" fill="#67add5"/>
<circle cx="214.9" cy="245.7" r="3.8" fill="#67add5"/>
<circle cx="228.8" cy="246.7" r="3.8" fill="#40a4db"/>
<circle cx="200.2" cy="249.7" r="3.8" fill="#cccccc"/>
<circle cx="205.3" cy="248.3" r="3.8" fill="#b2b2b2"/>
<circle cx="207.9" cy="252.8" r="3.8" fill="#bfbfbf"/>
<circle cx="215.9" cy="254.8" r="3.8" fill="#56b4e9"/>
<circle cx="211.5" cy="258.0" r="3.8" fill="#67add5"/>
<circle cx="220.5" cy="259.2" r="3.8" fill="#369bd4"/>
<circle cx="203.9" cy="263.4" r="3.8" fill="#919ca3"/>
<circle cx="231.8" cy="262.2" r="3.8" fill="#4bace2"/>
<circle cx="262.5" cy="240.3" r="3.8" fill="#208bc7"/>
<circle cx="263.5" cy="246.9" r="3.8" fill="#1682c0"/>
<circle cx="271.5" cy="259.0" r="3.8" fill="#0b7ab9"/>
<circle cx="246.4" cy="268.2" r="3.8" fill="#1682c0"/>
<circle cx="250.0" cy="276.2" r="3.8" fill="#0b7ab9"/>
<circle cx="212.5" cy="272.4" r="3.8" fill="#78a6c1"/>
<circle cx="207.9" cy="276.9" r="3.8" fill="#67add5"/>
<circle cx="204.7" cy="287.1" r="3.8" fill="#88a0ad"/>
<circle cx="219.3" cy="286.5" r="3.8" fill="#4bace2"/>
<circle cx="219.3" cy="290.5" r="3.8" fill="#67add5"/>
<circle cx="224.3" cy="298.1" r="3.8" fill="#56b4e9"/>
<circle cx="261.5" cy="288.9" r="3.8" fill="#0072b2"/>
<circle cx="284.6" cy="282.9" r="3.8" fill="#1682c0"/>
<circle cx="291.0" cy="276.4" r="3.8" fill="#0072b2"/>
<circle cx="292.2" cy="210.2" r="3.8" fill="#00829a"/>
<circle cx="299.6" cy="208.2" r="3.8" fill="#0072b2"/>
<circle cx="304.7" cy="214.2" r="3.8" fill="#008e8b"/>
<circle cx="292.4" cy="226.2" r="3.8" fill="#007da2"/>
<circle cx="308.7" cy="203.2" r="3.8" fill="#007da2"/>
<circle cx="308.3" cy="198.1" r="3.8" fill="#0078aa"/>
<circle cx="311.7" cy="194.1" r="3.8" fill="#1682c0"/>
<circle cx="308.3" cy="192.1" r="3.8" fill="#208bc7"/>
<circle cx="327.1" cy="198.9" r="3.8" fill="#208bc7"/>
<circle cx="341.4" cy="208.4" r="3.8" fill="#008e8b"/>
<circle cx="471.4" cy="180.3" r="3.8" fill="#008e8b"/>
<circle cx="490.3" cy="262.4" r="3.8" fill="#78c15a"/>
<circle cx="213.9" cy="303.0" r="3.8" fill="#78a6c1"/>
<circle cx="207.7" cy="311.0" r="3.8" fill="#80a3b7"/>
<circle cx="227.3" cy="316.7" r="3.8" fill="#0b7ab9"/>
<circle cx="256.1" cy="317.3" r="3.8" fill="#2b93ce"/>
<circle cx="225.1" cy="328.7" r="3.8" fill="#4bace2"/>
<circle cx="271.5" cy="307.0" r="3.8" fill="#0072b2"/>
<circle cx="274.9" cy="312.1" r="3.8" fill="#0078aa"/>
<circle cx="284.6" cy="308.4" r="3.8" fill="#007da2"/>
<circle cx="280.6" cy="316.1" r="3.8" fill="#007da2"/>
<circle cx="278.6" cy="320.1" r="3.8" fill="#00829a"/>
<circle cx="286.2" cy="326.5" r="3.8" fill="#00987b"/>
<circle cx="272.5" cy="340.2" r="3.8" fill="#00829a"/>
<circle cx="289.4" cy="341.0" r="3.8" fill="#008892"/>
<circle cx="310.7" cy="334.1" r="3.8" fill="#009e73"/>
<circle cx="307.7" cy="337.2" r="3.8" fill="#009e73"/>
<circle cx="295.2" cy="355.2" r="3.8" fill="#96ca54"/>
<circle cx="376.9" cy="352.6" r="3.8" fill="#efdb3a"/>
<circle cx="234.4" cy="358.6" r="3.8" fill="#0b7ab9"/>
<circle cx="250.0" cy="361.2" r="3.8" fill="#007da2"/>
<circle cx="225.3" cy="367.7" r="3.8" fill="#80a3b7"/>
<circle cx="253.5" cy="375.5" r="3.8" fill="#007da2"/>
<circle cx="282.2" cy="375.9" r="3.8" fill="#00829a"/>
<circle cx="295.6" cy="386.3" r="3.8" fill="#00829a"/>
<circle cx="296.6" cy="391.8" r="3.8" fill="#009383"/>
<circle cx="290.2" cy="380.9" r="3.8" fill="#1682c0"/>
<circle cx="288.6" cy="385.3" r="3.8" fill="#0b7ab9"/>
<circle cx="272.5" cy="394.4" r="3.8" fill="#007da2"/>
<circle cx="351.8" cy="380.3" r="3.8" fill="#eed332"/>
<circle cx="233.6" cy="385.3" r="3.8" fill="#78a6c1"/>
<circle cx="234.4" cy="392.0" r="3.8" fill="#80a3b7"/>
<circle cx="232.4" cy="398.0" r="3.8" fill="#78a6c1"/>
<circle cx="230.4" cy="402.4" r="3.8" fill="#80a3b7"/>
<circle cx="243.6" cy="407.4" r="3.8" fill="#67add5"/>
<circle cx="243.2" cy="413.5" r="3.8" fill="#56b4e9"/>
<circle cx="253.5" cy="412.9" r="3.8" fill="#2b93ce"/>
<circle cx="250.8" cy="417.1" r="3.8" fill="#6faacb"/>
<circle cx="255.9" cy="419.1" r="3.8" fill="#6faacb"/>
<circle cx="263.5" cy="421.9" r="3.8" fill="#999999"/>
<circle cx="272.1" cy="421.9" r="3.8" fill="#0078aa"/>
<circle cx="315.3" cy="404.8" r="3.8" fill="#5ab861"/>
<circle cx="312.3" cy="419.1" r="3.8" fill="#1ea76d"/>
<circle cx="355.9" cy="421.1" r="3.8" fill="#b4d24e"/>
<circle cx="286.8" cy="427.5" r="3.8" fill="#009383"/>
<circle cx="273.5" cy="431.5" r="3.8" fill="#369bd4"/>
<circle cx="296.6" cy="430.5" r="3.8" fill="#d2db48"/>
<circle cx="289.6" cy="433.1" r="3.8" fill="#1ea76d"/>
<circle cx="282.6" cy="433.5" r="3.8" fill="#00987b"/>
<circle cx="340.8" cy="433.5" r="3.8" fill="#e49700"/>
<circle cx="418.6" cy="358.6" r="3.8" fill="#efdb3a"/>
<circle cx="419.8" cy="370.3" r="3.8" fill="#e7a808"/>
<circle cx="445.5" cy="371.5" r="3.8" fill="#e7a808"/>
<circle cx="478.0" cy="359.2" r="3.8" fill="#eab919"/>
<circle cx="506.7" cy="348.2" r="3.8" fill="#ebc221"/>
<circle cx="511.8" cy="348.2" r="3.8" fill="#e8b010"/>
<circle cx="427.4" cy="379.3" r="3.8" fill="#eab919"/>
<circle cx="436.5" cy="379.3" r="3.8" fill="#ecca29"/>
<circle cx="431.6" cy="374.9" r="3.8" fill="#e7a808"/>
<circle cx="428.4" cy="386.3" r="3.8" fill="#e8b010"/>
<circle cx="432.4" cy="387.8" r="3.8" fill="#ebc221"/>
<circle cx="443.1" cy="390.8" r="3.8" fill="#e69f00"/>
<circle cx="423.2" cy="395.4" r="3.8" fill="#eab919"/>
<circle cx="282.2" cy="435.6" r="3.8" fill="#008892"/>
<circle cx="294.6" cy="439.0" r="3.8" fill="#008e8b"/>
<circle cx="300.6" cy="441.6" r="3.8" fill="#00987b"/>
<circle cx="308.3" cy="445.4" r="3.8" fill="#3cb067"/>
<circle cx="295.6" cy="446.4" r="3.8" fill="#369bd4"/>
<circle cx="303.7" cy="447.7" r="3.8" fill="#008e8b"/>
<circle cx="318.3" cy="447.1" r="3.8" fill="#eab919"/>
<circle cx="309.7" cy="451.1" r="3.8" fill="#1ea76d"/>
<circle cx="321.3" cy="451.7" r="3.8" fill="#e49700"/>
<circle cx="312.7" cy="455.7" r="3.8" fill="#d2db48"/>
<circle cx="302.7" cy="454.5" r="3.8" fill="#009383"/>
<circle cx="312.1" cy="460.1" r="3.8" fill="#3cb067"/>
<circle cx="303.3" cy="459.7" r="3.8" fill="#009e73"/>
<circle cx="330.4" cy="437.4" r="3.8" fill="#e28f00"/>
<circle cx="341.4" cy="440.4" r="3.8" fill="#d96e00"/>
<circle cx="340.2" cy="448.1" r="3.8" fill="#cf6f68"/>
<circle cx="331.2" cy="452.1" r="3.8" fill="#de7e00"/>
<circle cx="338.8" cy="453.7" r="3.8" fill="#d46115"/>
<circle cx="343.2" cy="456.7" r="3.8" fill="#db7600"/>
<circle cx="329.8" cy="457.1" r="3.8" fill="#e49700"/>
<circle cx="332.8" cy="457.7" r="3.8" fill="#e69f00"/>
<circle cx="352.9" cy="464.5" r="3.8" fill="#d76600"/>
<circle cx="370.3" cy="462.3" r="3.8" fill="#db7600"/>
<circle cx="362.9" cy="470.7" r="3.8" fill="#e28f00"/>
<circle cx="374.5" cy="479.2" r="3.8" fill="#e08700"/>
<circle cx="332.4" cy="472.2" r="3.8" fill="#5ab861"/>
<circle cx="340.8" cy="477.8" r="3.8" fill="#78c15a"/>
<circle cx="339.2" cy="482.8" r="3.8" fill="#78c15a"/>
<circle cx="338.2" cy="487.8" r="3.8" fill="#0072b2"/>
<circle cx="325.1" cy="491.6" r="3.8" fill="#0b7ab9"/>
<circle cx="331.8" cy="509.9" r="3.8" fill="#008892"/>
<circle cx="337.8" cy="513.9" r="3.8" fill="#5ab861"/>
<circle cx="344.8" cy="512.9" r="3.8" fill="#eed332"/>
<circle cx="329.8" cy="515.7" r="3.8" fill="#0b7ab9"/>
<circle cx="331.8" cy="519.9" r="3.8" fill="#007da2"/>
<circle cx="336.8" cy="523.4" r="3.8" fill="#3cb067"/>
<circle cx="358.9" cy="521.6" r="3.8" fill="#ecca29"/>
<circle cx="474.2" cy="475.4" r="3.8" fill="#008e8b"/>
<circle cx="431.4" cy="496.0" r="3.8" fill="#1ea76d"/>
<circle cx="501.7" cy="520.1" r="3.8" fill="#67add5"/>
<circle cx="512.8" cy="509.9" r="3.8" fill="#369bd4"/>
<circle cx="392.9" cy="506.3" r="3.8" fill="#f0e442"/>
<circle cx="388.9" cy="513.7" r="3.8" fill="#efdb3a"/>
<circle cx="388.9" cy="524.8" r="3.8" fill="#f0e442"/>
<circle cx="390.7" cy="531.0" r="3.8" fill="#eab919"/>
<circle cx="423.0" cy="536.4" r="3.8" fill="#5ab861"/>
<circle cx="388.3" cy="481.0" r="3.8" fill="#e8b010"/>
<circle cx="435.0" cy="382.9" r="3.8" fill="#ebc221"/>
<circle cx="429.6" cy="382.9" r="3.8" fill="#eab919"/>
<circle cx="433.0" cy="378.0" r="3.8" fill="#ebc221"/>
</g>
<circle cx="472.5" cy="578.5" r="2.5" fill="#000"/><text x="483.3" y="582.6">AQS</text>
<rect x="28.6" y="28.6" width="484.9" height="563.9" fill="none" stroke="#000" stroke-width="0.65"/>
<g stroke="#000" stroke-width="0.8" fill="none">
<line x1="44.6" y1="592.5" x2="499.8" y2="592.5"/>
<line x1="28.6" y1="42.6" x2="28.6" y2="576.3"/>
<line x1="44.6" y1="592.5" x2="44.6" y2="600.1"/>
<line x1="119.5" y1="592.5" x2="119.5" y2="600.1"/>
<line x1="194.6" y1="592.5" x2="194.6" y2="600.1"/>
<line x1="270.4" y1="592.5" x2="270.4" y2="600.1"/>
<line x1="346.4" y1="592.5" x2="346.4" y2="600.1"/>
<line x1="423.1" y1="592.5" x2="423.1" y2="600.1"/>
<line x1="499.8" y1="592.5" x2="499.8" y2="600.1"/>
<line x1="28.6" y1="576.3" x2="21.1" y2="576.3"/>
<line x1="28.6" y1="487.4" x2="21.1" y2="487.4"/>
<line x1="28.6" y1="398.4" x2="21.1" y2="398.4"/>
<line x1="28.6" y1="309.5" x2="21.1" y2="309.5"/>
<line x1="28.6" y1="220.5" x2="21.1" y2="220.5"/>
<line x1="28.6" y1="131.6" x2="21.1" y2="131.6"/>
<line x1="28.6" y1="42.6" x2="21.1" y2="42.6"/>
</g>
<text x="44.6" y="619" text-anchor="middle">-124</text>
<text x="119.5" y="619" text-anchor="middle">-122</text>
<text x="194.6" y="619" text-anchor="middle">-120</text>
<text x="270.4" y="619" text-anchor="middle">-118</text>
<text x="346.4" y="619" text-anchor="middle">-116</text>
<text x="423.1" y="619" text-anchor="middle">-114</text>
<text x="499.8" y="619" text-anchor="middle">-112</text>
<text transform="translate(12.1,576.3) rotate(-90)" text-anchor="middle">33</text>
<text transform="translate(12.1,487.4) rotate(-90)" text-anchor="middle">35</text>
<text transform="translate(12.1,398.4) rotate(-90)" text-anchor="middle">37</text>
<text transform="translate(12.1,309.5) rotate(-90)" text-anchor="middle">39</text>
<text transform="translate(12.1,220.5) rotate(-90)" text-anchor="middle">41</text>
<text transform="translate(12.1,131.6) rotate(-90)" text-anchor="middle">43</text>
<text transform="translate(12.1,42.6) rotate(-90)" text-anchor="middle">45</text>
<text class="t" x="138.40" y="19.6" textLength="265.5" lengthAdjust="spacing">EMBER 36km: O3_MDA8 on 06/20/2023</text>
<text xml:space="preserve" x="140.60" y="639.7" textLength="260.6" lengthAdjust="spacing">Domain size: 37x32 | Max Model = 64 at (10, 20)</text>
<text xml:space="preserve" x="237.80" y="654.7" textLength="66.4" lengthAdjust="spacing">Max Obs: 79</text>
<g shape-rendering="crispEdges">
<rect x="545.9" y="556.37" width="7.5" height="8.23" fill="#ffffff"/>
<rect x="545.9" y="548.44" width="7.5" height="8.23" fill="#f2f2f2"/>
<rect x="545.9" y="540.52" width="7.5" height="8.23" fill="#e5e5e5"/>
<rect x="545.9" y="532.59" width="7.5" height="8.23" fill="#d8d8d8"/>
<rect x="545.9" y="524.66" width="7.5" height="8.23" fill="#cacaca"/>
<rect x="545.9" y="516.73" width="7.5" height="8.23" fill="#bdbdbd"/>
<rect x="545.9" y="508.80" width="7.5" height="8.23" fill="#b0b0b0"/>
<rect x="545.9" y="500.87" width="7.5" height="8.23" fill="#a3a3a3"/>
<rect x="545.9" y="492.95" width="7.5" height="8.23" fill="#979a9c"/>
<rect x="545.9" y="485.02" width="7.5" height="8.23" fill="#8e9da6"/>
<rect x="545.9" y="477.09" width="7.5" height="8.23" fill="#86a1b0"/>
<rect x="545.9" y="469.16" width="7.5" height="8.23" fill="#7da4bb"/>
<rect x="545.9" y="461.23" width="7.5" height="8.23" fill="#74a8c5"/>
<rect x="545.9" y="453.31" width="7.5" height="8.23" fill="#6cabcf"/>
<rect x="545.9" y="445.38" width="7.5" height="8.23" fill="#63afda"/>
<rect x="545.9" y="437.45" width="7.5" height="8.23" fill="#5ab2e4"/>
<rect x="545.9" y="429.52" width="7.5" height="8.23" fill="#50b0e5"/>
<rect x="545.9" y="421.59" width="7.5" height="8.23" fill="#45a7de"/>
<rect x="545.9" y="413.67" width="7.5" height="8.23" fill="#3a9fd7"/>
<rect x="545.9" y="405.74" width="7.5" height="8.23" fill="#2f96d0"/>
<rect x="545.9" y="397.81" width="7.5" height="8.23" fill="#248ec9"/>
<rect x="545.9" y="389.88" width="7.5" height="8.23" fill="#1985c2"/>
<rect x="545.9" y="381.95" width="7.5" height="8.23" fill="#0e7dbb"/>
<rect x="545.9" y="374.02" width="7.5" height="8.23" fill="#0374b4"/>
<rect x="545.9" y="366.10" width="7.5" height="8.23" fill="#0076ac"/>
<rect x="545.9" y="358.17" width="7.5" height="8.23" fill="#007ca4"/>
<rect x="545.9" y="350.24" width="7.5" height="8.23" fill="#00829c"/>
<rect x="545.9" y="342.31" width="7.5" height="8.23" fill="#008794"/>
<rect x="545.9" y="334.38" width="7.5" height="8.23" fill="#008d8b"/>
<rect x="545.9" y="326.46" width="7.5" height="8.23" fill="#009383"/>
<rect x="545.9" y="318.53" width="7.5" height="8.23" fill="#00987b"/>
<rect x="545.9" y="310.60" width="7.5" height="8.23" fill="#009e73"/>
<rect x="545.9" y="302.67" width="7.5" height="8.23" fill="#1fa76d"/>
<rect x="545.9" y="294.74" width="7.5" height="8.23" fill="#3eb066"/>
<rect x="545.9" y="286.82" width="7.5" height="8.23" fill="#5db960"/>
<rect x="545.9" y="278.89" width="7.5" height="8.23" fill="#7cc25a"/>
<rect x="545.9" y="270.96" width="7.5" height="8.23" fill="#9bcb53"/>
<rect x="545.9" y="263.03" width="7.5" height="8.23" fill="#bad44d"/>
<rect x="545.9" y="255.10" width="7.5" height="8.23" fill="#d9dd47"/>
<rect x="545.9" y="247.17" width="7.5" height="8.23" fill="#f0e240"/>
<rect x="545.9" y="239.25" width="7.5" height="8.23" fill="#eed937"/>
<rect x="545.9" y="231.32" width="7.5" height="8.23" fill="#edd02f"/>
<rect x="545.9" y="223.39" width="7.5" height="8.23" fill="#ecc726"/>
<rect x="545.9" y="215.46" width="7.5" height="8.23" fill="#ebbe1e"/>
<rect x="545.9" y="207.53" width="7.5" height="8.23" fill="#e9b515"/>
<rect x="545.9" y="199.61" width="7.5" height="8.23" fill="#e8ac0d"/>
<rect x="545.9" y="191.68" width="7.5" height="8.23" fill="#e7a304"/>
<rect x="545.9" y="183.75" width="7.5" height="8.23" fill="#e59b00"/>
<rect x="545.9" y="175.82" width="7.5" height="8.23" fill="#e39200"/>
<rect x="545.9" y="167.89" width="7.5" height="8.23" fill="#e18a00"/>
<rect x="545.9" y="159.97" width="7.5" height="8.23" fill="#de8200"/>
<rect x="545.9" y="152.04" width="7.5" height="8.23" fill="#dc7900"/>
<rect x="545.9" y="144.11" width="7.5" height="8.23" fill="#da7100"/>
<rect x="545.9" y="136.18" width="7.5" height="8.23" fill="#d86800"/>
<rect x="545.9" y="128.25" width="7.5" height="8.23" fill="#d66000"/>
<rect x="545.9" y="120.32" width="7.5" height="8.23" fill="#d46110"/>
<rect x="545.9" y="112.40" width="7.5" height="8.23" fill="#d36426"/>
<rect x="545.9" y="104.47" width="7.5" height="8.23" fill="#d2683b"/>
<rect x="545.9" y="96.54" width="7.5" height="8.23" fill="#d16b51"/>
<rect x="545.9" y="88.61" width="7.5" height="8.23" fill="#cf6f66"/>
<rect x="545.9" y="80.68" width="7.5" height="8.23" fill="#ce727c"/>
<rect x="545.9" y="72.76" width="7.5" height="8.23" fill="#cd7691"/>
<rect x="545.9" y="64.83" width="7.5" height="8.23" fill="#cc79a7"/>
<rect x="545.9" y="56.90" width="7.5" height="8.23" fill="#a52a2a"/>
</g>
<line x1="546.0" y1="56.9" x2="546.0" y2="564.3" stroke="#8a8a8a" stroke-width="1.1"/>
<line x1="545.9" y1="564.3" x2="553.4" y2="564.3" stroke="#999" stroke-width="1"/>
<line x1="553.4" y1="56.9" x2="553.4" y2="564.3" stroke="#000" stroke-width="1"/>
<line x1="553.4" y1="560.9" x2="560.7" y2="560.9" stroke="#000" stroke-width="1"/>
<text x="568" y="565.2">0</text>
<line x1="553.4" y1="537.8" x2="560.7" y2="537.8" stroke="#000" stroke-width="1"/>
<text x="568" y="542.1">20</text>
<line x1="553.4" y1="460.9" x2="560.7" y2="460.9" stroke="#000" stroke-width="1"/>
<text x="568" y="465.2">30</text>
<line x1="553.4" y1="384.0" x2="560.7" y2="384.0" stroke="#000" stroke-width="1"/>
<text x="568" y="388.3">40</text>
<line x1="553.4" y1="307.2" x2="560.7" y2="307.2" stroke="#000" stroke-width="1"/>
<text x="568" y="311.5">50</text>
<line x1="553.4" y1="230.3" x2="560.7" y2="230.3" stroke="#000" stroke-width="1"/>
<text x="568" y="234.6">60</text>
<line x1="553.4" y1="153.4" x2="560.7" y2="153.4" stroke="#000" stroke-width="1"/>
<text x="568" y="157.7">70</text>
<line x1="553.4" y1="76.5" x2="560.7" y2="76.5" stroke="#000" stroke-width="1"/>
<text x="568" y="80.8">80</text>
<line x1="553.4" y1="61.1" x2="560.7" y2="61.1" stroke="#777" stroke-width="1"/>
<text x="568" y="65.4">140</text>
<text x="535" y="53.5">ppbV</text>
</g>
<g transform="translate(600.00,0)">
<clipPath id="c600"><rect x="28.6" y="28.6" width="484.9" height="563.9"/></clipPath>
<g clip-path="url(#c600)" fill="none" stroke="#000" stroke-width="0.8" stroke-linejoin="round">
<polyline points="196.0,51.3 280.0,75.8 329.1,88.9 400.0,106.2 424.6,112.0 513.6,130.4"/>
<polyline points="424.7,112.0 427.1,104.1 440.6,40.3 441.8,34.4 443.2,31.2 445.4,28.8"/>
<polyline points="187.9,224.2 189.2,228.3 190.4,231.7"/>
<polyline points="188.2,224.3 189.7,228.8 190.8,231.7"/>
<polyline points="183.3,233.8 185.8,230.8 187.5,228.3"/>
<polyline points="183.8,234.2 186.2,231.2"/>
<polyline points="201.7,234.2 205.8,232.9 209.2,233.8 213.3,236.7 216.7,239.2 221.7,241.7 227.5,242.5 230.0,240.8 233.3,244.2 236.7,248.8"/>
<polyline points="228.3,240.4 230.4,242.9 235.8,248.3"/>
<polyline points="227.5,242.1 232.5,243.8 236.2,248.3"/>
<polyline points="199.2,244.2 201.7,246.2 201.2,250.8 200.8,255.0 203.3,259.2 206.7,261.7 209.2,265.8 207.5,265.0 206.7,262.5"/>
<polyline points="401.1,565.3 401.6,567.8 404.2,569.9 406.7,572.4 409.2,574.9 411.8,578.5 412.8,580.0 410.7,580.0 408.7,577.4 407.2,574.4 405.2,571.4 402.7,568.8 401.3,567.1"/>
<polyline points="402.1,592.8 403.7,586.6 406.2,582.5 408.2,579.5 407.7,576.4 406.7,574.4"/>
<polyline points="411.8,578.5 413.8,576.9 415.8,577.4 419.4,582.5 424.4,588.1 429.0,592.8"/>
<polyline points="437.6,592.6 437.4,588.6 438.6,586.6 438.4,589.1 441.1,589.6 444.7,592.8"/>
<polyline points="194.6,29.0 192.6,35.0 193.4,39.0 192.6,45.1 194.2,49.1 196.0,51.5 194.6,56.1 191.8,60.1 194.2,64.1 193.4,72.2 191.2,79.2 187.2,86.2 184.6,91.2 184.6,95.3 183.2,100.3 179.2,104.3 173.1,109.3 169.7,115.3 168.5,122.4 170.1,127.4 173.7,133.4 177.1,141.4 179.2,149.5 178.2,157.5 176.1,163.9"/>
<polyline points="329.2,88.9 309.7,163.9"/>
<polyline points="175.7,164.0 173.7,170.0 174.1,178.1 171.3,185.1 174.1,192.1 178.2,200.1 182.2,209.2 185.8,217.2 187.2,224.2 189.2,231.3 191.2,237.3 195.2,241.3 197.2,246.3 196.2,252.4 195.2,258.4 196.6,264.4 194.2,272.4 197.2,280.5 202.2,288.5 208.3,292.5 210.3,298.9"/>
<polyline points="310.1,164.0 299.6,204.2 295.6,218.2 349.8,298.9"/>
<polyline points="513.4,174.0 489.7,298.9"/>
<polyline points="210.3,299.0 206.3,302.0 201.2,304.0 201.8,311.0 200.6,317.1 204.3,322.1 207.3,329.1 210.3,336.1 212.3,342.2 215.3,349.2 219.3,355.2 222.3,361.2 222.3,369.3 224.3,374.3 229.4,378.3 230.4,383.3 227.3,388.4 226.3,395.4 224.3,402.4 228.0,406.4 229.4,411.0 238.4,412.5 244.4,415.5 252.4,419.5 260.5,424.5 268.5,429.5 272.5,433.9"/>
<polyline points="350.1,299.0 441.9,432.5"/>
<polyline points="490.3,299.0 479.6,351.6 476.6,363.3 474.6,379.3 471.6,388.4 467.6,393.0 463.0,391.4 461.6,387.4 456.5,385.3 450.5,384.9 447.5,386.3 447.5,395.4 445.5,411.4 446.1,423.5 443.5,429.5 441.9,432.5"/>
<polyline points="479.6,351.6 513.4,357.2"/>
<polyline points="270.5,434.0 276.5,439.0 283.6,444.0 291.6,445.0 295.6,450.1 294.6,458.1 298.6,462.1 304.7,463.1 310.7,470.1 317.7,478.2 323.7,486.6 327.1,494.2 328.4,507.3 325.7,513.3 326.7,518.3 328.8,524.4"/>
<polyline points="441.9,434.0 442.5,441.0 445.5,446.0 447.5,458.1 451.5,464.1 454.1,470.1 445.5,474.2 438.5,481.2 435.5,488.2 434.9,494.2 430.4,500.3 424.4,505.3 423.4,514.3 424.4,520.3 430.0,523.4 429.4,529.4 425.4,534.4"/>
<polyline points="329.0,524.4 390.3,531.4 420.4,534.4 414.4,543.4 415.6,544.6"/>
<polyline points="328.5,524.4 330.1,532.0 333.7,539.1 335.1,548.1 340.2,555.1 341.2,559.2 338.2,563.2 336.1,569.2 339.2,575.2 343.2,582.2 345.8,588.3 346.6,592.7"/>
<polyline points="336.5,561.2 339.2,564.2"/>
<polyline points="414.5,543.1 497.8,592.7"/>
</g>
<g clip-path="url(#c600)" stroke="#000" stroke-width="0.78">
<circle cx="242.6" cy="54.9" r="3.8" fill="#e9e5a4"/>
<circle cx="241.4" cy="77.8" r="3.8" fill="#e9e5a4"/>
<circle cx="179.8" cy="103.3" r="3.8" fill="#e9e5a4"/>
<circle cx="236.4" cy="124.2" r="3.8" fill="#efe452"/>
<circle cx="235.4" cy="130.4" r="3.8" fill="#e7e5c4"/>
<circle cx="236.6" cy="135.4" r="3.8" fill="#e9e5a4"/>
<circle cx="260.9" cy="138.4" r="3.8" fill="#efe452"/>
<circle cx="241.2" cy="145.5" r="3.8" fill="#b8dbb8"/>
<circle cx="234.2" cy="148.1" r="3.8" fill="#e7e5c4"/>
<circle cx="461.4" cy="47.5" r="3.8" fill="#e9e5a4"/>
<circle cx="467.0" cy="49.5" r="3.8" fill="#e7e5c4"/>
<circle cx="243.4" cy="169.0" r="3.8" fill="#b8dbb8"/>
<circle cx="250.2" cy="172.0" r="3.8" fill="#b8dbb8"/>
<circle cx="229.0" cy="176.0" r="3.8" fill="#cadfca"/>
<circle cx="190.8" cy="182.7" r="3.8" fill="#ebc221"/>
<circle cx="198.8" cy="190.9" r="3.8" fill="#ebc221"/>
<circle cx="230.8" cy="192.1" r="3.8" fill="#e9e5a4"/>
<circle cx="237.4" cy="193.3" r="3.8" fill="#e5e5e5"/>
<circle cx="243.2" cy="198.1" r="3.8" fill="#efe452"/>
<circle cx="264.9" cy="205.8" r="3.8" fill="#eae494"/>
<circle cx="261.3" cy="214.6" r="3.8" fill="#e5e5e5"/>
<circle cx="258.1" cy="211.6" r="3.8" fill="#efe452"/>
<circle cx="249.2" cy="212.2" r="3.8" fill="#efe452"/>
<circle cx="233.8" cy="217.4" r="3.8" fill="#efe452"/>
<circle cx="194.0" cy="218.2" r="3.8" fill="#ebc221"/>
<circle cx="230.6" cy="222.6" r="3.8" fill="#ede473"/>
<circle cx="250.4" cy="218.2" r="3.8" fill="#e9e5a4"/>
<circle cx="253.1" cy="221.8" r="3.8" fill="#eae494"/>
<circle cx="245.8" cy="222.8" r="3.8" fill="#e9e5a4"/>
<circle cx="240.4" cy="223.6" r="3.8" fill="#ede473"/>
<circle cx="265.5" cy="223.0" r="3.8" fill="#e5e5e5"/>
<circle cx="249.2" cy="229.5" r="3.8" fill="#e5e5e5"/>
<circle cx="222.9" cy="228.3" r="3.8" fill="#ede473"/>
<circle cx="216.9" cy="232.9" r="3.8" fill="#e9b414"/>
<circle cx="209.9" cy="236.7" r="3.8" fill="#ebc221"/>
<circle cx="239.8" cy="235.7" r="3.8" fill="#e9b414"/>
<circle cx="198.8" cy="239.5" r="3.8" fill="#ebc221"/>
<circle cx="204.3" cy="241.9" r="3.8" fill="#efe452"/>
<circle cx="214.9" cy="245.7" r="3.8" fill="#edcf2e"/>
<circle cx="228.8" cy="246.7" r="3.8" fill="#efdd3b"/>
<circle cx="200.2" cy="249.7" r="3.8" fill="#e49800"/>
<circle cx="205.3" cy="248.3" r="3.8" fill="#ebc221"/>
<circle cx="207.9" cy="252.8" r="3.8" fill="#e7a607"/>
<circle cx="215.9" cy="254.8" r="3.8" fill="#efe452"/>
<circle cx="211.5" cy="258.0" r="3.8" fill="#ede473"/>
<circle cx="220.5" cy="259.2" r="3.8" fill="#e9e5a4"/>
<circle cx="203.9" cy="263.4" r="3.8" fill="#ebc221"/>
<circle cx="231.8" cy="262.2" r="3.8" fill="#ebc221"/>
<circle cx="262.5" cy="240.3" r="3.8" fill="#ede473"/>
<circle cx="263.5" cy="246.9" r="3.8" fill="#ede473"/>
<circle cx="271.5" cy="259.0" r="3.8" fill="#e5e5e5"/>
<circle cx="246.4" cy="268.2" r="3.8" fill="#eae494"/>
<circle cx="250.0" cy="276.2" r="3.8" fill="#eae494"/>
<circle cx="212.5" cy="272.4" r="3.8" fill="#efe452"/>
<circle cx="207.9" cy="276.9" r="3.8" fill="#efe452"/>
<circle cx="204.7" cy="287.1" r="3.8" fill="#e9b414"/>
<circle cx="219.3" cy="286.5" r="3.8" fill="#ebc221"/>
<circle cx="219.3" cy="290.5" r="3.8" fill="#e7a607"/>
<circle cx="224.3" cy="298.1" r="3.8" fill="#ebc221"/>
<circle cx="261.5" cy="288.9" r="3.8" fill="#e8e5b4"/>
<circle cx="284.6" cy="282.9" r="3.8" fill="#ede473"/>
<circle cx="291.0" cy="276.4" r="3.8" fill="#b8dbb8"/>
<circle cx="292.2" cy="210.2" r="3.8" fill="#c1ddc1"/>
<circle cx="299.6" cy="208.2" r="3.8" fill="#e5e5e5"/>
<circle cx="304.7" cy="214.2" r="3.8" fill="#c1ddc1"/>
<circle cx="292.4" cy="226.2" r="3.8" fill="#e5e5e5"/>
<circle cx="308.7" cy="203.2" r="3.8" fill="#e5e5e5"/>
<circle cx="308.3" cy="198.1" r="3.8" fill="#e6e5d5"/>
<circle cx="311.7" cy="194.1" r="3.8" fill="#ede473"/>
<circle cx="308.3" cy="192.1" r="3.8" fill="#efe452"/>
<circle cx="327.1" cy="198.9" r="3.8" fill="#edcf2e"/>
<circle cx="341.4" cy="208.4" r="3.8" fill="#e5e5e5"/>
<circle cx="471.4" cy="180.3" r="3.8" fill="#e5e5e5"/>
<circle cx="490.3" cy="262.4" r="3.8" fill="#e5e5e5"/>
<circle cx="213.9" cy="303.0" r="3.8" fill="#e18c00"/>
<circle cx="207.7" cy="311.0" r="3.8" fill="#e7a607"/>
<circle cx="227.3" cy="316.7" r="3.8" fill="#e5e5e5"/>
<circle cx="256.1" cy="317.3" r="3.8" fill="#efdd3b"/>
<circle cx="225.1" cy="328.7" r="3.8" fill="#efdd3b"/>
<circle cx="271.5" cy="307.0" r="3.8" fill="#e8e5b4"/>
<circle cx="274.9" cy="312.1" r="3.8" fill="#e7e5c4"/>
<circle cx="284.6" cy="308.4" r="3.8" fill="#e5e5e5"/>
<circle cx="280.6" cy="316.1" r="3.8" fill="#e5e5e5"/>
<circle cx="278.6" cy="320.1" r="3.8" fill="#e5e5e5"/>
<circle cx="286.2" cy="326.5" r="3.8" fill="#c1ddc1"/>
<circle cx="272.5" cy="340.2" r="3.8" fill="#e5e5e5"/>
<circle cx="289.4" cy="341.0" r="3.8" fill="#e5e5e5"/>
<circle cx="310.7" cy="334.1" r="3.8" fill="#95d395"/>
<circle cx="307.7" cy="337.2" r="3.8" fill="#95d395"/>
<circle cx="295.2" cy="355.2" r="3.8" fill="#83cf83"/>
<circle cx="376.9" cy="352.6" r="3.8" fill="#25ac76"/>
<circle cx="234.4" cy="358.6" r="3.8" fill="#e5e5e5"/>
<circle cx="250.0" cy="361.2" r="3.8" fill="#e5e5e5"/>
<circle cx="225.3" cy="367.7" r="3.8" fill="#e7a607"/>
<circle cx="253.5" cy="375.5" r="3.8" fill="#e5e5e5"/>
<circle cx="282.2" cy="375.9" r="3.8" fill="#e5e5e5"/>
<circle cx="295.6" cy="386.3" r="3.8" fill="#e5e5e5"/>
<circle cx="296.6" cy="391.8" r="3.8" fill="#e5e5e5"/>
<circle cx="290.2" cy="380.9" r="3.8" fill="#efe452"/>
<circle cx="288.6" cy="385.3" r="3.8" fill="#ede473"/>
<circle cx="272.5" cy="394.4" r="3.8" fill="#e5e5e5"/>
<circle cx="351.8" cy="380.3" r="3.8" fill="#a7d7a7"/>
<circle cx="233.6" cy="385.3" r="3.8" fill="#e49800"/>
<circle cx="234.4" cy="392.0" r="3.8" fill="#e18c00"/>
<circle cx="232.4" cy="398.0" r="3.8" fill="#e49800"/>
<circle cx="230.4" cy="402.4" r="3.8" fill="#e18c00"/>
<circle cx="243.6" cy="407.4" r="3.8" fill="#e18c00"/>
<circle cx="243.2" cy="413.5" r="3.8" fill="#e7a607"/>
<circle cx="253.5" cy="412.9" r="3.8" fill="#efdd3b"/>
<circle cx="250.8" cy="417.1" r="3.8" fill="#de7e00"/>
<circle cx="255.9" cy="419.1" r="3.8" fill="#de7e00"/>
<circle cx="263.5" cy="421.9" r="3.8" fill="#fa0c11"/>
<circle cx="272.1" cy="421.9" r="3.8" fill="#e18c00"/>
<circle cx="315.3" cy="404.8" r="3.8" fill="#e5e5e5"/>
<circle cx="312.3" cy="419.1" r="3.8" fill="#e8e5b4"/>
<circle cx="355.9" cy="421.1" r="3.8" fill="#e5e5e5"/>
<circle cx="286.8" cy="427.5" r="3.8" fill="#e9b414"/>
<circle cx="273.5" cy="431.5" r="3.8" fill="#d06c54"/>
<circle cx="296.6" cy="430.5" r="3.8" fill="#e5e5e5"/>
<circle cx="289.6" cy="433.1" r="3.8" fill="#efdd3b"/>
<circle cx="282.6" cy="433.5" r="3.8" fill="#efdd3b"/>
<circle cx="340.8" cy="433.5" r="3.8" fill="#a7d7a7"/>
<circle cx="418.6" cy="358.6" r="3.8" fill="#95d395"/>
<circle cx="419.8" cy="370.3" r="3.8" fill="#009a79"/>
<circle cx="445.5" cy="371.5" r="3.8" fill="#83cf83"/>
<circle cx="478.0" cy="359.2" r="3.8" fill="#a7d7a7"/>
<circle cx="506.7" cy="348.2" r="3.8" fill="#a7d7a7"/>
<circle cx="511.8" cy="348.2" r="3.8" fill="#83cf83"/>
<circle cx="427.4" cy="379.3" r="3.8" fill="#25ac76"/>
<circle cx="436.5" cy="379.3" r="3.8" fill="#83cf83"/>
<circle cx="431.6" cy="374.9" r="3.8" fill="#57bf79"/>
<circle cx="428.4" cy="386.3" r="3.8" fill="#0ca374"/>
<circle cx="432.4" cy="387.8" r="3.8" fill="#57bf79"/>
<circle cx="443.1" cy="390.8" r="3.8" fill="#009a79"/>
<circle cx="423.2" cy="395.4" r="3.8" fill="#25ac76"/>
<circle cx="282.2" cy="435.6" r="3.8" fill="#efdd3b"/>
<circle cx="294.6" cy="439.0" r="3.8" fill="#ebc221"/>
<circle cx="300.6" cy="441.6" r="3.8" fill="#e7a607"/>
<circle cx="308.3" cy="445.4" r="3.8" fill="#ebc221"/>
<circle cx="295.6" cy="446.4" r="3.8" fill="#d06c54"/>
<circle cx="303.7" cy="447.7" r="3.8" fill="#e18c00"/>
<circle cx="318.3" cy="447.1" r="3.8" fill="#e5e5e5"/>
<circle cx="309.7" cy="451.1" r="3.8" fill="#cadfca"/>
<circle cx="321.3" cy="451.7" r="3.8" fill="#25ac76"/>
<circle cx="312.7" cy="455.7" r="3.8" fill="#a7d7a7"/>
<circle cx="302.7" cy="454.5" r="3.8" fill="#efe452"/>
<circle cx="312.1" cy="460.1" r="3.8" fill="#b8dbb8"/>
<circle cx="303.3" cy="459.7" r="3.8" fill="#eae494"/>
<circle cx="330.4" cy="437.4" r="3.8" fill="#95d395"/>
<circle cx="341.4" cy="440.4" r="3.8" fill="#25ac76"/>
<circle cx="340.2" cy="448.1" r="3.8" fill="#0072b2"/>
<circle cx="331.2" cy="452.1" r="3.8" fill="#25ac76"/>
<circle cx="338.8" cy="453.7" r="3.8" fill="#007f9f"/>
<circle cx="343.2" cy="456.7" r="3.8" fill="#0ca374"/>
<circle cx="329.8" cy="457.1" r="3.8" fill="#83cf83"/>
<circle cx="332.8" cy="457.7" r="3.8" fill="#95d395"/>
<circle cx="352.9" cy="464.5" r="3.8" fill="#0072b2"/>
<circle cx="370.3" cy="462.3" r="3.8" fill="#009186"/>
<circle cx="362.9" cy="470.7" r="3.8" fill="#25ac76"/>
<circle cx="374.5" cy="479.2" r="3.8" fill="#0072b2"/>
<circle cx="332.4" cy="472.2" r="3.8" fill="#e8e5b4"/>
<circle cx="340.8" cy="477.8" r="3.8" fill="#a7d7a7"/>
<circle cx="339.2" cy="482.8" r="3.8" fill="#a7d7a7"/>
<circle cx="338.2" cy="487.8" r="3.8" fill="#ebc221"/>
<circle cx="325.1" cy="491.6" r="3.8" fill="#efdd3b"/>
<circle cx="331.8" cy="509.9" r="3.8" fill="#ede473"/>
<circle cx="337.8" cy="513.9" r="3.8" fill="#b8dbb8"/>
<circle cx="344.8" cy="512.9" r="3.8" fill="#57bf79"/>
<circle cx="329.8" cy="515.7" r="3.8" fill="#e9b414"/>
<circle cx="331.8" cy="519.9" r="3.8" fill="#efdd3b"/>
<circle cx="336.8" cy="523.4" r="3.8" fill="#3eb678"/>
<circle cx="358.9" cy="521.6" r="3.8" fill="#25ac76"/>
<circle cx="474.2" cy="475.4" r="3.8" fill="#0072b2"/>
<circle cx="431.4" cy="496.0" r="3.8" fill="#3eb678"/>
<circle cx="501.7" cy="520.1" r="3.8" fill="#e5e5e5"/>
<circle cx="512.8" cy="509.9" r="3.8" fill="#95d395"/>
<circle cx="392.9" cy="506.3" r="3.8" fill="#57bf79"/>
<circle cx="388.9" cy="513.7" r="3.8" fill="#3eb678"/>
<circle cx="388.9" cy="524.8" r="3.8" fill="#3eb678"/>
<circle cx="390.7" cy="531.0" r="3.8" fill="#008c8c"/>
<circle cx="423.0" cy="536.4" r="3.8" fill="#1545e8"/>
<circle cx="388.3" cy="481.0" r="3.8" fill="#009186"/>
<circle cx="435.0" cy="382.9" r="3.8" fill="#57bf79"/>
<circle cx="429.6" cy="382.9" r="3.8" fill="#25ac76"/>
<circle cx="433.0" cy="378.0" r="3.8" fill="#57bf79"/>
</g>
<circle cx="472.5" cy="578.5" r="2.5" fill="#000"/><text x="483.3" y="582.6">AQS</text>
<rect x="28.6" y="28.6" width="484.9" height="563.9" fill="none" stroke="#000" stroke-width="0.65"/>
<g stroke="#000" stroke-width="0.8" fill="none">
<line x1="44.6" y1="592.5" x2="499.8" y2="592.5"/>
<line x1="28.6" y1="42.6" x2="28.6" y2="576.3"/>
<line x1="44.6" y1="592.5" x2="44.6" y2="600.1"/>
<line x1="119.5" y1="592.5" x2="119.5" y2="600.1"/>
<line x1="194.6" y1="592.5" x2="194.6" y2="600.1"/>
<line x1="270.4" y1="592.5" x2="270.4" y2="600.1"/>
<line x1="346.4" y1="592.5" x2="346.4" y2="600.1"/>
<line x1="423.1" y1="592.5" x2="423.1" y2="600.1"/>
<line x1="499.8" y1="592.5" x2="499.8" y2="600.1"/>
<line x1="28.6" y1="576.3" x2="21.1" y2="576.3"/>
<line x1="28.6" y1="487.4" x2="21.1" y2="487.4"/>
<line x1="28.6" y1="398.4" x2="21.1" y2="398.4"/>
<line x1="28.6" y1="309.5" x2="21.1" y2="309.5"/>
<line x1="28.6" y1="220.5" x2="21.1" y2="220.5"/>
<line x1="28.6" y1="131.6" x2="21.1" y2="131.6"/>
<line x1="28.6" y1="42.6" x2="21.1" y2="42.6"/>
</g>
<text x="44.6" y="619" text-anchor="middle">-124</text>
<text x="119.5" y="619" text-anchor="middle">-122</text>
<text x="194.6" y="619" text-anchor="middle">-120</text>
<text x="270.4" y="619" text-anchor="middle">-118</text>
<text x="346.4" y="619" text-anchor="middle">-116</text>
<text x="423.1" y="619" text-anchor="middle">-114</text>
<text x="499.8" y="619" text-anchor="middle">-112</text>
<text transform="translate(12.1,576.3) rotate(-90)" text-anchor="middle">33</text>
<text transform="translate(12.1,487.4) rotate(-90)" text-anchor="middle">35</text>
<text transform="translate(12.1,398.4) rotate(-90)" text-anchor="middle">37</text>
<text transform="translate(12.1,309.5) rotate(-90)" text-anchor="middle">39</text>
<text transform="translate(12.1,220.5) rotate(-90)" text-anchor="middle">41</text>
<text transform="translate(12.1,131.6) rotate(-90)" text-anchor="middle">43</text>
<text transform="translate(12.1,42.6) rotate(-90)" text-anchor="middle">45</text>
<text class="t" x="142.60" y="19.6" textLength="257.0" lengthAdjust="spacing">EMBER bias: O3_MDA8 on 06/20/2023</text>
<text xml:space="preserve" x="132.70" y="639.7" textLength="277.0" lengthAdjust="spacing">Bias Summary: [ min, 25th %, 50th %, 75th %, max ]</text>
<text xml:space="preserve" x="214.70" y="654.7" textLength="154.2" lengthAdjust="spacing">[ -16,   -3.4,   0.93,   5.6,   27 ]</text>
<g shape-rendering="crispEdges">
<rect x="545.9" y="556.37" width="7.5" height="8.23" fill="#68228B"/>
<rect x="545.9" y="548.44" width="7.5" height="8.23" fill="#68228b"/>
<rect x="545.9" y="540.52" width="7.5" height="8.23" fill="#73229f"/>
<rect x="545.9" y="532.59" width="7.5" height="8.23" fill="#7e21b3"/>
<rect x="545.9" y="524.66" width="7.5" height="8.23" fill="#8a21c8"/>
<rect x="545.9" y="516.73" width="7.5" height="8.23" fill="#9520dc"/>
<rect x="545.9" y="508.80" width="7.5" height="8.23" fill="#a020f0"/>
<rect x="545.9" y="500.87" width="7.5" height="8.23" fill="#8624f3"/>
<rect x="545.9" y="492.95" width="7.5" height="8.23" fill="#6c27f6"/>
<rect x="545.9" y="485.02" width="7.5" height="8.23" fill="#522bf9"/>
<rect x="545.9" y="477.09" width="7.5" height="8.23" fill="#382efc"/>
<rect x="545.9" y="469.16" width="7.5" height="8.23" fill="#1e32ff"/>
<rect x="545.9" y="461.23" width="7.5" height="8.23" fill="#183ff0"/>
<rect x="545.9" y="453.31" width="7.5" height="8.23" fill="#124ce0"/>
<rect x="545.9" y="445.38" width="7.5" height="8.23" fill="#0c58d1"/>
<rect x="545.9" y="437.45" width="7.5" height="8.23" fill="#0665c1"/>
<rect x="545.9" y="429.52" width="7.5" height="8.23" fill="#0072b2"/>
<rect x="545.9" y="421.59" width="7.5" height="8.23" fill="#007ba5"/>
<rect x="545.9" y="413.67" width="7.5" height="8.23" fill="#008499"/>
<rect x="545.9" y="405.74" width="7.5" height="8.23" fill="#008c8c"/>
<rect x="545.9" y="397.81" width="7.5" height="8.23" fill="#009580"/>
<rect x="545.9" y="389.88" width="7.5" height="8.23" fill="#009e73"/>
<rect x="545.9" y="381.95" width="7.5" height="8.23" fill="#19a775"/>
<rect x="545.9" y="374.02" width="7.5" height="8.23" fill="#32b177"/>
<rect x="545.9" y="366.10" width="7.5" height="8.23" fill="#4aba78"/>
<rect x="545.9" y="358.17" width="7.5" height="8.23" fill="#63c47a"/>
<rect x="545.9" y="350.24" width="7.5" height="8.23" fill="#7ccd7c"/>
<rect x="545.9" y="342.31" width="7.5" height="8.23" fill="#91d291"/>
<rect x="545.9" y="334.38" width="7.5" height="8.23" fill="#a6d7a6"/>
<rect x="545.9" y="326.46" width="7.5" height="8.23" fill="#bbdbbb"/>
<rect x="545.9" y="318.53" width="7.5" height="8.23" fill="#d0e0d0"/>
<rect x="545.9" y="310.60" width="7.5" height="8.23" fill="#e5e5e5"/>
<rect x="545.9" y="302.67" width="7.5" height="8.23" fill="#e5e5e5"/>
<rect x="545.9" y="294.74" width="7.5" height="8.23" fill="#e7e5c4"/>
<rect x="545.9" y="286.82" width="7.5" height="8.23" fill="#e9e5a4"/>
<rect x="545.9" y="278.89" width="7.5" height="8.23" fill="#ece483"/>
<rect x="545.9" y="270.96" width="7.5" height="8.23" fill="#eee463"/>
<rect x="545.9" y="263.03" width="7.5" height="8.23" fill="#f0e442"/>
<rect x="545.9" y="255.10" width="7.5" height="8.23" fill="#eed635"/>
<rect x="545.9" y="247.17" width="7.5" height="8.23" fill="#ecc828"/>
<rect x="545.9" y="239.25" width="7.5" height="8.23" fill="#eabb1a"/>
<rect x="545.9" y="231.32" width="7.5" height="8.23" fill="#e8ad0d"/>
<rect x="545.9" y="223.39" width="7.5" height="8.23" fill="#e69f00"/>
<rect x="545.9" y="215.46" width="7.5" height="8.23" fill="#e39200"/>
<rect x="545.9" y="207.53" width="7.5" height="8.23" fill="#df8500"/>
<rect x="545.9" y="199.61" width="7.5" height="8.23" fill="#dc7800"/>
<rect x="545.9" y="191.68" width="7.5" height="8.23" fill="#d86b00"/>
<rect x="545.9" y="183.75" width="7.5" height="8.23" fill="#d55e00"/>
<rect x="545.9" y="175.82" width="7.5" height="8.23" fill="#d36321"/>
<rect x="545.9" y="167.89" width="7.5" height="8.23" fill="#d16943"/>
<rect x="545.9" y="159.97" width="7.5" height="8.23" fill="#d06e64"/>
<rect x="545.9" y="152.04" width="7.5" height="8.23" fill="#ce7486"/>
<rect x="545.9" y="144.11" width="7.5" height="8.23" fill="#cc79a7"/>
<rect x="545.9" y="136.18" width="7.5" height="8.23" fill="#d66186"/>
<rect x="545.9" y="128.25" width="7.5" height="8.23" fill="#e04964"/>
<rect x="545.9" y="120.32" width="7.5" height="8.23" fill="#eb3043"/>
<rect x="545.9" y="112.40" width="7.5" height="8.23" fill="#f51821"/>
<rect x="545.9" y="104.47" width="7.5" height="8.23" fill="#ff0000"/>
<rect x="545.9" y="96.54" width="7.5" height="8.23" fill="#ed0808"/>
<rect x="545.9" y="88.61" width="7.5" height="8.23" fill="#db1111"/>
<rect x="545.9" y="80.68" width="7.5" height="8.23" fill="#c91919"/>
<rect x="545.9" y="72.76" width="7.5" height="8.23" fill="#b72222"/>
<rect x="545.9" y="64.83" width="7.5" height="8.23" fill="#a52a2a"/>
<rect x="545.9" y="56.90" width="7.5" height="8.23" fill="#a52a2a"/>
</g>
<line x1="546.0" y1="56.9" x2="546.0" y2="564.3" stroke="#8a8a8a" stroke-width="1.1"/>
<line x1="545.9" y1="564.3" x2="553.4" y2="564.3" stroke="#999" stroke-width="1"/>
<line x1="553.4" y1="56.9" x2="553.4" y2="564.3" stroke="#000" stroke-width="1"/>
<line x1="553.4" y1="560.8" x2="560.7" y2="560.8" stroke="#000" stroke-width="1"/>
<text x="568" y="565.1">-50</text>
<line x1="553.4" y1="545.2" x2="560.7" y2="545.2" stroke="#000" stroke-width="1"/>
<text x="568" y="549.5">-30</text>
<line x1="553.4" y1="467.1" x2="560.7" y2="467.1" stroke="#000" stroke-width="1"/>
<text x="568" y="471.4">-20</text>
<line x1="553.4" y1="389.1" x2="560.7" y2="389.1" stroke="#000" stroke-width="1"/>
<text x="568" y="393.4">-10</text>
<line x1="553.4" y1="311.0" x2="560.7" y2="311.0" stroke="#000" stroke-width="1"/>
<text x="568" y="315.3">0</text>
<line x1="553.4" y1="232.9" x2="560.7" y2="232.9" stroke="#000" stroke-width="1"/>
<text x="568" y="237.2">10</text>
<line x1="553.4" y1="154.9" x2="560.7" y2="154.9" stroke="#000" stroke-width="1"/>
<text x="568" y="159.2">20</text>
<line x1="553.4" y1="76.8" x2="560.7" y2="76.8" stroke="#000" stroke-width="1"/>
<text x="568" y="81.1">30</text>
<line x1="553.4" y1="61.2" x2="560.7" y2="61.2" stroke="#777" stroke-width="1"/>
<text x="568" y="65.5">90</text>
<text x="535" y="53.5">ppbV</text>
</g>
</svg></body></html>
